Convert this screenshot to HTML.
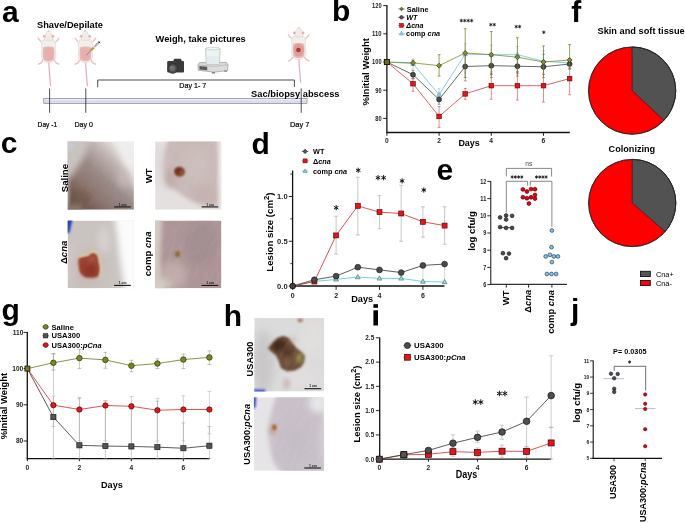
<!DOCTYPE html>
<html><head><meta charset="utf-8"><style>
html,body{margin:0;padding:0;background:#fff;}
svg{display:block;filter:blur(0.4px);}
text{font-family:"Liberation Sans", sans-serif;}
</style></head><body>
<svg width="685" height="523" viewBox="0 0 685 523" font-family='"Liberation Sans", sans-serif'>
<defs><filter id="msoft" x="-20%" y="-20%" width="140%" height="140%"><feGaussianBlur stdDeviation="0.28"/></filter><filter id="bl1" x="-60%" y="-60%" width="220%" height="220%"><feGaussianBlur stdDeviation="1.0"/></filter><filter id="bl2" x="-60%" y="-60%" width="220%" height="220%"><feGaussianBlur stdDeviation="2.2"/></filter><filter id="bl3" x="-60%" y="-60%" width="220%" height="220%"><feGaussianBlur stdDeviation="3.2"/></filter><filter id="bl4" x="-60%" y="-60%" width="220%" height="220%"><feGaussianBlur stdDeviation="4.5"/></filter><filter id="bl6" x="-60%" y="-60%" width="220%" height="220%"><feGaussianBlur stdDeviation="6.5"/></filter><filter id="fur" x="0" y="0" width="100%" height="100%" filterUnits="objectBoundingBox"><feTurbulence type="fractalNoise" baseFrequency="0.06 0.3" numOctaves="2" seed="5"/><feColorMatrix type="matrix" values="0 0 0 0 1  0 0 0 0 1  0 0 0 0 1  0 0 0 1.4 -0.55"/></filter><linearGradient id="gc1" gradientUnits="userSpaceOnUse" x1="68" y1="210" x2="134" y2="141"><stop offset="0" stop-color="#5a4036"/><stop offset="0.3" stop-color="#8c746e"/><stop offset="0.5" stop-color="#9a8a87"/><stop offset="0.7" stop-color="#c2b6b2"/><stop offset="0.85" stop-color="#e8e4e2"/><stop offset="1" stop-color="#f6f6f5"/></linearGradient><clipPath id="cpc1"><rect x="67.6" y="141.4" width="66.3" height="68.3"/></clipPath><clipPath id="cpc2"><rect x="155.1" y="141.4" width="66.3" height="68.3"/></clipPath><clipPath id="cpc3"><rect x="67.6" y="220.6" width="66.3" height="67.6"/></clipPath><clipPath id="cpc4"><rect x="155.1" y="220.6" width="66.3" height="67.6"/></clipPath><clipPath id="cph1"><rect x="254.3" y="318.1" width="70.0" height="73.4"/></clipPath><clipPath id="cph2"><rect x="253.9" y="397.3" width="70.2" height="73.5"/></clipPath></defs>
<rect width="685" height="523" fill="#fff"/>
<text x="2.05" y="21.60" font-size="30" font-weight="bold" text-anchor="start" fill="#000" >a</text>
<text x="331.95" y="21.20" font-size="30" font-weight="bold" text-anchor="start" fill="#000" >b</text>
<text x="571.20" y="21.80" font-size="30" font-weight="bold" text-anchor="start" fill="#000" >f</text>
<text x="0.70" y="153.40" font-size="30" font-weight="bold" text-anchor="start" fill="#000" >c</text>
<text x="251.50" y="154.20" font-size="30" font-weight="bold" text-anchor="start" fill="#000" >d</text>
<text x="436.50" y="180.40" font-size="30" font-weight="bold" text-anchor="start" fill="#000" >e</text>
<text x="1.50" y="320.20" font-size="30" font-weight="bold" text-anchor="start" fill="#000" >g</text>
<text x="223.75" y="326.00" font-size="30" font-weight="bold" text-anchor="start" fill="#000" >h</text>
<rect x="373.4" y="304.2" width="4.6" height="3.6" fill="#000"/><rect x="373.4" y="310.3" width="4.6" height="15.2" fill="#000"/>
<text x="570.90" y="320.00" font-size="30" font-weight="bold" text-anchor="start" fill="#000" >j</text>
<g transform="translate(48.60,30.60)" filter="url(#msoft)">
<path d="M0.2,31.5 C0.6,40 1.3,48 2.0,55.5" stroke="#e6aab4" stroke-width="1.2" fill="none"/>
<path d="M-4.2,27.5 L-7.8,32.6 L-10.2,33.6" stroke="#edbcc3" stroke-width="1.4" fill="none" stroke-linecap="round" stroke-linejoin="round"/>
<path d="M4.2,27.5 L7.8,32.6 L10.2,33.6" stroke="#edbcc3" stroke-width="1.4" fill="none" stroke-linecap="round" stroke-linejoin="round"/>
<path d="M-4.5,13 L-8.4,10.2 L-10.4,7.6" stroke="#edbcc3" stroke-width="1.3" fill="none" stroke-linecap="round" stroke-linejoin="round"/>
<path d="M4.5,13 L8.4,10.2 L10.4,7.6" stroke="#edbcc3" stroke-width="1.3" fill="none" stroke-linecap="round" stroke-linejoin="round"/>
<path d="M-4.8,13.2 L-7.6,11 M4.8,13.2 L7.6,11" stroke="#f1ede9" stroke-width="2.2" fill="none"/>
<path d="M-3.8,8.6 C-6.8,9.4 -7.4,12.5 -7.0,15.5 C-6.4,18 -6.6,20.5 -7.2,23.5 C-7.8,27.5 -6.0,31.8 0,32.4 C6.0,31.8 7.8,27.5 7.2,23.5 C6.6,20.5 6.4,18 7.0,15.5 C7.4,12.5 6.8,9.4 3.8,8.6 Z" fill="#f2eee9" stroke="#d4ccc6" stroke-width="0.5"/>
<path d="M-5.4,16.8 C-5.9,20 -6.0,25 -5.3,29.0 C-3,31.4 3,31.4 5.3,29.0 C6.0,25 5.9,20 5.4,16.8 C2.6,15.6 -2.6,15.6 -5.4,16.8 Z" fill="#e9b6b5"/>
<path d="M-3.8,18.4 C-4.1,21 -4.1,25 -3.6,28 C-1.6,29.6 1.6,29.6 3.6,28 C4.1,25 4.1,21 3.8,18.4 C1.8,17.4 -1.8,17.4 -3.8,18.4 Z" fill="#e4a6a6" opacity="0.5"/>
<path d="M0,0 C-1.5,0.3 -2.4,2 -3.1,4.4 C-4.0,6.8 -4.3,8.6 -3.6,9.6 L3.6,9.6 C4.3,8.6 4.0,6.8 3.1,4.4 C2.4,2 1.5,0.3 0,0 Z" fill="#f2eee9" stroke="#d2c9c2" stroke-width="0.5"/>
<ellipse cx="0" cy="6.2" rx="2.2" ry="2.6" fill="#f5e8e4" />
<circle cx="-4.4" cy="5.7" r="1.35" fill="#e9abb4"/>
<circle cx="4.4" cy="5.7" r="1.35" fill="#e9abb4"/>
<circle cx="0" cy="0.7" r="0.8" fill="#efc6c8"/>
</g>
<g transform="translate(85.40,30.60)" filter="url(#msoft)">
<path d="M0.2,31.5 C0.6,40 1.3,48 2.0,55.5" stroke="#e6aab4" stroke-width="1.2" fill="none"/>
<path d="M-4.2,27.5 L-7.8,32.6 L-10.2,33.6" stroke="#edbcc3" stroke-width="1.4" fill="none" stroke-linecap="round" stroke-linejoin="round"/>
<path d="M4.2,27.5 L7.8,32.6 L10.2,33.6" stroke="#edbcc3" stroke-width="1.4" fill="none" stroke-linecap="round" stroke-linejoin="round"/>
<path d="M-4.5,13 L-8.4,10.2 L-10.4,7.6" stroke="#edbcc3" stroke-width="1.3" fill="none" stroke-linecap="round" stroke-linejoin="round"/>
<path d="M4.5,13 L8.4,10.2 L10.4,7.6" stroke="#edbcc3" stroke-width="1.3" fill="none" stroke-linecap="round" stroke-linejoin="round"/>
<path d="M-4.8,13.2 L-7.6,11 M4.8,13.2 L7.6,11" stroke="#f1ede9" stroke-width="2.2" fill="none"/>
<path d="M-3.8,8.6 C-6.8,9.4 -7.4,12.5 -7.0,15.5 C-6.4,18 -6.6,20.5 -7.2,23.5 C-7.8,27.5 -6.0,31.8 0,32.4 C6.0,31.8 7.8,27.5 7.2,23.5 C6.6,20.5 6.4,18 7.0,15.5 C7.4,12.5 6.8,9.4 3.8,8.6 Z" fill="#f2eee9" stroke="#d4ccc6" stroke-width="0.5"/>
<path d="M-5.4,16.8 C-5.9,20 -6.0,25 -5.3,29.0 C-3,31.4 3,31.4 5.3,29.0 C6.0,25 5.9,20 5.4,16.8 C2.6,15.6 -2.6,15.6 -5.4,16.8 Z" fill="#e9b6b5"/>
<path d="M-3.8,18.4 C-4.1,21 -4.1,25 -3.6,28 C-1.6,29.6 1.6,29.6 3.6,28 C4.1,25 4.1,21 3.8,18.4 C1.8,17.4 -1.8,17.4 -3.8,18.4 Z" fill="#e4a6a6" opacity="0.5"/>
<path d="M0,0 C-1.5,0.3 -2.4,2 -3.1,4.4 C-4.0,6.8 -4.3,8.6 -3.6,9.6 L3.6,9.6 C4.3,8.6 4.0,6.8 3.1,4.4 C2.4,2 1.5,0.3 0,0 Z" fill="#f2eee9" stroke="#d2c9c2" stroke-width="0.5"/>
<ellipse cx="0" cy="6.2" rx="2.2" ry="2.6" fill="#f5e8e4" />
<circle cx="-4.4" cy="5.7" r="1.35" fill="#e9abb4"/>
<circle cx="4.4" cy="5.7" r="1.35" fill="#e9abb4"/>
<circle cx="0" cy="0.7" r="0.8" fill="#efc6c8"/>
</g>
<g filter="url(#msoft)">
<line x1="86.40" y1="55.30" x2="90.60" y2="50.70" stroke="#555" stroke-width="0.5" />
<line x1="90.40" y1="50.90" x2="91.20" y2="50.10" stroke="#9a7fc8" stroke-width="1.6" />
<line x1="91.00" y1="50.20" x2="93.90" y2="47.60" stroke="#b9a226" stroke-width="2.4" />
<line x1="93.80" y1="47.60" x2="98.20" y2="43.10" stroke="#dfe3e0" stroke-width="2.3" />
<path d="M94.6,46.0 L95.2,46.6 M95.8,44.8 L96.4,45.4 M97.0,43.6 L97.6,44.2" stroke="#222" stroke-width="0.6"/>
<line x1="94.30" y1="46.30" x2="98.00" y2="42.60" stroke="#555" stroke-width="0.5" />
<line x1="98.10" y1="43.20" x2="99.60" y2="41.80" stroke="#333" stroke-width="1.0" />
<line x1="98.40" y1="41.60" x2="100.20" y2="43.20" stroke="#222" stroke-width="0.9" />
</g>
<g transform="translate(298.70,27.20)" filter="url(#msoft)">
<path d="M0.2,31.5 C0.6,40 1.3,48 2.0,55.5" stroke="#e6aab4" stroke-width="1.2" fill="none"/>
<path d="M-4.2,27.5 L-7.8,32.6 L-10.2,33.6" stroke="#edbcc3" stroke-width="1.4" fill="none" stroke-linecap="round" stroke-linejoin="round"/>
<path d="M4.2,27.5 L7.8,32.6 L10.2,33.6" stroke="#edbcc3" stroke-width="1.4" fill="none" stroke-linecap="round" stroke-linejoin="round"/>
<path d="M-4.5,13 L-8.4,10.2 L-10.4,7.6" stroke="#edbcc3" stroke-width="1.3" fill="none" stroke-linecap="round" stroke-linejoin="round"/>
<path d="M4.5,13 L8.4,10.2 L10.4,7.6" stroke="#edbcc3" stroke-width="1.3" fill="none" stroke-linecap="round" stroke-linejoin="round"/>
<path d="M-4.8,13.2 L-7.6,11 M4.8,13.2 L7.6,11" stroke="#f1ede9" stroke-width="2.2" fill="none"/>
<path d="M-3.8,8.6 C-6.8,9.4 -7.4,12.5 -7.0,15.5 C-6.4,18 -6.6,20.5 -7.2,23.5 C-7.8,27.5 -6.0,31.8 0,32.4 C6.0,31.8 7.8,27.5 7.2,23.5 C6.6,20.5 6.4,18 7.0,15.5 C7.4,12.5 6.8,9.4 3.8,8.6 Z" fill="#f2eee9" stroke="#d4ccc6" stroke-width="0.5"/>
<path d="M-5.4,16.8 C-5.9,20 -6.0,25 -5.3,29.0 C-3,31.4 3,31.4 5.3,29.0 C6.0,25 5.9,20 5.4,16.8 C2.6,15.6 -2.6,15.6 -5.4,16.8 Z" fill="#e9b6b5"/>
<path d="M-3.8,18.4 C-4.1,21 -4.1,25 -3.6,28 C-1.6,29.6 1.6,29.6 3.6,28 C4.1,25 4.1,21 3.8,18.4 C1.8,17.4 -1.8,17.4 -3.8,18.4 Z" fill="#e4a6a6" opacity="0.5"/>
<ellipse cx="0" cy="22.8" rx="5.2" ry="6.3" fill="#dc8e8c" opacity="0.6"/>
<ellipse cx="-0.3" cy="22.8" rx="2.3" ry="2.2" fill="#a8393c"/>
<path d="M0,0 C-1.5,0.3 -2.4,2 -3.1,4.4 C-4.0,6.8 -4.3,8.6 -3.6,9.6 L3.6,9.6 C4.3,8.6 4.0,6.8 3.1,4.4 C2.4,2 1.5,0.3 0,0 Z" fill="#f2eee9" stroke="#d2c9c2" stroke-width="0.5"/>
<ellipse cx="0" cy="6.2" rx="2.2" ry="2.6" fill="#f5e8e4" />
<circle cx="-4.4" cy="5.7" r="1.35" fill="#e9abb4"/>
<circle cx="4.4" cy="5.7" r="1.35" fill="#e9abb4"/>
<circle cx="0" cy="0.7" r="0.8" fill="#efc6c8"/>
</g>
<text x="37.00" y="28.40" font-size="8.2" font-weight="bold" text-anchor="start" fill="#000" textLength="66" lengthAdjust="spacingAndGlyphs" >Shave/Depilate</text>
<text x="155.60" y="42.30" font-size="9.6" font-weight="bold" text-anchor="start" fill="#000" textLength="90.2" lengthAdjust="spacingAndGlyphs" >Weigh, take pictures</text>
<path d="M167.2,62.2 Q167,61 168.5,61 L173.2,61 L174.3,58.8 L180.8,58.8 L181.9,61 L183.2,61 Q184,61 184,62.2 L184,71.6 Q184,72.6 183,72.6 L168.2,72.6 Q167.2,72.6 167.2,71.6 Z" fill="#3a3a3a"/>
<circle cx="172.7" cy="68.5" r="4.8" fill="#4e4e4e" stroke="#2a2a2a" stroke-width="0.8"/>
<circle cx="172.5" cy="68.3" r="2.8" fill="#6c6c6c"/>
<circle cx="171.6" cy="67.4" r="0.9" fill="#8a8a8a"/>
<path d="M199.5,62.6 L226.5,62.4 L228.0,64.8 L227.6,70.6 L214,72.2 L198.2,70.2 L198.0,64.8 Z" fill="#dcdcda" stroke="#8a8a88" stroke-width="0.6"/>
<path d="M198.2,64.9 L214,66.4 L227.8,64.8" stroke="#a0a09e" stroke-width="0.5" fill="none"/>
<path d="M199.4,66.0 L207.2,66.8 L207.2,70.2 L199.4,69.4 Z" fill="#5a5a58"/>
<rect x="211.8" y="72" width="3.2" height="1.6" fill="#8c8c8c"/>
<rect x="224.2" y="70.4" width="2.8" height="1.4" fill="#8c8c8c"/>
<path d="M205.5,48.4 L220.1,48.4 L219.4,64.3 L206.2,64.3 Z" fill="#edf2f2" stroke="#aab4b6" stroke-width="0.6"/>
<ellipse cx="212.8" cy="48.6" rx="7.3" ry="1.2" fill="#f6f8f8" stroke="#aab4b6" stroke-width="0.5"/>
<rect x="207" y="56" width="11.8" height="8" fill="#dfeaee" opacity="0.7"/>
<polyline points="97.70,87.30 97.70,80.00 294.40,80.00 294.40,86.80" stroke="#222" stroke-width="0.8" fill="none" />
<text x="192.80" y="88.30" font-size="7.6" font-weight="normal" text-anchor="middle" fill="#000" textLength="27" lengthAdjust="spacingAndGlyphs" stroke="#000" stroke-width="0.2">Day 1- 7</text>
<rect x="43.8" y="98.6" width="263.2" height="4.8" fill="#dadcf0" stroke="#5a5a66" stroke-width="0.5"/>
<rect x="44.2" y="99.0" width="262.4" height="1.2" fill="#eceefa"/>
<line x1="49.60" y1="88.40" x2="49.60" y2="112.80" stroke="#222" stroke-width="0.8" />
<line x1="85.80" y1="88.40" x2="85.80" y2="112.80" stroke="#222" stroke-width="0.8" />
<line x1="301.20" y1="88.40" x2="301.20" y2="112.80" stroke="#222" stroke-width="0.8" />
<text x="37.60" y="127.10" font-size="7.7" font-weight="normal" text-anchor="start" fill="#000" textLength="19.6" lengthAdjust="spacingAndGlyphs" stroke="#000" stroke-width="0.2">Day -1</text>
<text x="74.50" y="127.10" font-size="7.7" font-weight="normal" text-anchor="start" fill="#000" textLength="18.5" lengthAdjust="spacingAndGlyphs" stroke="#000" stroke-width="0.2">Day 0</text>
<text x="290.00" y="127.20" font-size="7.7" font-weight="normal" text-anchor="start" fill="#000" textLength="19.4" lengthAdjust="spacingAndGlyphs" stroke="#000" stroke-width="0.2">Day 7</text>
<text x="251.10" y="96.70" font-size="9.4" font-weight="bold" text-anchor="start" fill="#000" textLength="88.4" lengthAdjust="spacingAndGlyphs" >Sac/biopsy abscess</text>
<line x1="386.90" y1="5.00" x2="386.90" y2="132.80" stroke="#111" stroke-width="1.3" />
<line x1="386.30" y1="132.50" x2="569.80" y2="132.50" stroke="#111" stroke-width="1.3" />
<line x1="383.20" y1="118.40" x2="386.90" y2="118.40" stroke="#111" stroke-width="0.9" />
<text x="381.60" y="120.75" font-size="6.5" font-weight="bold" text-anchor="end" fill="#222" textLength="6.34" lengthAdjust="spacingAndGlyphs" >80</text>
<line x1="383.20" y1="90.20" x2="386.90" y2="90.20" stroke="#111" stroke-width="0.9" />
<text x="381.60" y="92.55" font-size="6.5" font-weight="bold" text-anchor="end" fill="#222" textLength="6.34" lengthAdjust="spacingAndGlyphs" >90</text>
<line x1="383.20" y1="62.00" x2="386.90" y2="62.00" stroke="#111" stroke-width="0.9" />
<text x="381.60" y="64.35" font-size="6.5" font-weight="bold" text-anchor="end" fill="#222" textLength="9.51" lengthAdjust="spacingAndGlyphs" >100</text>
<line x1="383.20" y1="33.80" x2="386.90" y2="33.80" stroke="#111" stroke-width="0.9" />
<text x="381.60" y="36.15" font-size="6.5" font-weight="bold" text-anchor="end" fill="#222" textLength="9.51" lengthAdjust="spacingAndGlyphs" >110</text>
<line x1="383.20" y1="5.60" x2="386.90" y2="5.60" stroke="#111" stroke-width="0.9" />
<text x="381.60" y="7.95" font-size="6.5" font-weight="bold" text-anchor="end" fill="#222" textLength="9.51" lengthAdjust="spacingAndGlyphs" >120</text>
<line x1="386.90" y1="132.50" x2="386.90" y2="135.80" stroke="#111" stroke-width="0.9" />
<text x="386.80" y="143.10" font-size="6.6" font-weight="bold" text-anchor="middle" fill="#222" >0</text>
<line x1="439.10" y1="132.50" x2="439.10" y2="135.80" stroke="#111" stroke-width="0.9" />
<text x="439.00" y="143.10" font-size="6.6" font-weight="bold" text-anchor="middle" fill="#222" >2</text>
<line x1="491.30" y1="132.50" x2="491.30" y2="135.80" stroke="#111" stroke-width="0.9" />
<text x="491.20" y="143.10" font-size="6.6" font-weight="bold" text-anchor="middle" fill="#222" >4</text>
<line x1="543.50" y1="132.50" x2="543.50" y2="135.80" stroke="#111" stroke-width="0.9" />
<text x="543.40" y="143.10" font-size="6.6" font-weight="bold" text-anchor="middle" fill="#222" >6</text>
<text x="469.10" y="145.60" font-size="9.7" font-weight="bold" text-anchor="middle" fill="#000" textLength="21.4" lengthAdjust="spacingAndGlyphs" >Days</text>
<text x="368.70" y="71.80" font-size="9.5" font-weight="bold" text-anchor="middle" fill="#000" transform="rotate(-90 368.70 71.80)" >%Initial Weight</text>
<line x1="413.00" y1="70.46" x2="413.00" y2="78.92" stroke="#666" stroke-width="0.6" />
<line x1="411.60" y1="70.46" x2="414.40" y2="70.46" stroke="#666" stroke-width="0.6" />
<line x1="411.60" y1="78.92" x2="414.40" y2="78.92" stroke="#666" stroke-width="0.6" />
<line x1="413.00" y1="59.18" x2="413.00" y2="69.05" stroke="#7fbfd6" stroke-width="0.6" />
<line x1="411.60" y1="59.18" x2="414.40" y2="59.18" stroke="#7fbfd6" stroke-width="0.6" />
<line x1="411.60" y1="69.05" x2="414.40" y2="69.05" stroke="#7fbfd6" stroke-width="0.6" />
<line x1="413.00" y1="78.36" x2="413.00" y2="91.33" stroke="#d54040" stroke-width="0.6" />
<line x1="411.60" y1="78.36" x2="414.40" y2="78.36" stroke="#d54040" stroke-width="0.6" />
<line x1="411.60" y1="91.33" x2="414.40" y2="91.33" stroke="#d54040" stroke-width="0.6" />
<line x1="439.10" y1="94.43" x2="439.10" y2="104.30" stroke="#666" stroke-width="0.6" />
<line x1="437.70" y1="94.43" x2="440.50" y2="94.43" stroke="#666" stroke-width="0.6" />
<line x1="437.70" y1="104.30" x2="440.50" y2="104.30" stroke="#666" stroke-width="0.6" />
<line x1="439.10" y1="88.79" x2="439.10" y2="104.30" stroke="#7fbfd6" stroke-width="0.6" />
<line x1="437.70" y1="88.79" x2="440.50" y2="88.79" stroke="#7fbfd6" stroke-width="0.6" />
<line x1="437.70" y1="104.30" x2="440.50" y2="104.30" stroke="#7fbfd6" stroke-width="0.6" />
<line x1="439.10" y1="106.56" x2="439.10" y2="127.42" stroke="#d54040" stroke-width="0.6" />
<line x1="437.70" y1="106.56" x2="440.50" y2="106.56" stroke="#d54040" stroke-width="0.6" />
<line x1="437.70" y1="127.42" x2="440.50" y2="127.42" stroke="#d54040" stroke-width="0.6" />
<line x1="465.20" y1="53.54" x2="465.20" y2="80.89" stroke="#666" stroke-width="0.6" />
<line x1="463.80" y1="53.54" x2="466.60" y2="53.54" stroke="#666" stroke-width="0.6" />
<line x1="463.80" y1="80.89" x2="466.60" y2="80.89" stroke="#666" stroke-width="0.6" />
<line x1="465.20" y1="43.67" x2="465.20" y2="73.28" stroke="#7fbfd6" stroke-width="0.6" />
<line x1="463.80" y1="43.67" x2="466.60" y2="43.67" stroke="#7fbfd6" stroke-width="0.6" />
<line x1="463.80" y1="73.28" x2="466.60" y2="73.28" stroke="#7fbfd6" stroke-width="0.6" />
<line x1="465.20" y1="88.51" x2="465.20" y2="99.22" stroke="#d54040" stroke-width="0.6" />
<line x1="463.80" y1="88.51" x2="466.60" y2="88.51" stroke="#d54040" stroke-width="0.6" />
<line x1="463.80" y1="99.22" x2="466.60" y2="99.22" stroke="#d54040" stroke-width="0.6" />
<line x1="491.30" y1="53.54" x2="491.30" y2="77.51" stroke="#666" stroke-width="0.6" />
<line x1="489.90" y1="53.54" x2="492.70" y2="53.54" stroke="#666" stroke-width="0.6" />
<line x1="489.90" y1="77.51" x2="492.70" y2="77.51" stroke="#666" stroke-width="0.6" />
<line x1="491.30" y1="45.08" x2="491.30" y2="71.87" stroke="#7fbfd6" stroke-width="0.6" />
<line x1="489.90" y1="45.08" x2="492.70" y2="45.08" stroke="#7fbfd6" stroke-width="0.6" />
<line x1="489.90" y1="71.87" x2="492.70" y2="71.87" stroke="#7fbfd6" stroke-width="0.6" />
<line x1="491.30" y1="73.28" x2="491.30" y2="99.22" stroke="#d54040" stroke-width="0.6" />
<line x1="489.90" y1="73.28" x2="492.70" y2="73.28" stroke="#d54040" stroke-width="0.6" />
<line x1="489.90" y1="99.22" x2="492.70" y2="99.22" stroke="#d54040" stroke-width="0.6" />
<line x1="517.40" y1="54.95" x2="517.40" y2="76.10" stroke="#666" stroke-width="0.6" />
<line x1="516.00" y1="54.95" x2="518.80" y2="54.95" stroke="#666" stroke-width="0.6" />
<line x1="516.00" y1="76.10" x2="518.80" y2="76.10" stroke="#666" stroke-width="0.6" />
<line x1="517.40" y1="46.49" x2="517.40" y2="71.87" stroke="#7fbfd6" stroke-width="0.6" />
<line x1="516.00" y1="46.49" x2="518.80" y2="46.49" stroke="#7fbfd6" stroke-width="0.6" />
<line x1="516.00" y1="71.87" x2="518.80" y2="71.87" stroke="#7fbfd6" stroke-width="0.6" />
<line x1="517.40" y1="71.87" x2="517.40" y2="100.07" stroke="#d54040" stroke-width="0.6" />
<line x1="516.00" y1="71.87" x2="518.80" y2="71.87" stroke="#d54040" stroke-width="0.6" />
<line x1="516.00" y1="100.07" x2="518.80" y2="100.07" stroke="#d54040" stroke-width="0.6" />
<line x1="543.50" y1="54.39" x2="543.50" y2="77.51" stroke="#666" stroke-width="0.6" />
<line x1="542.10" y1="54.39" x2="544.90" y2="54.39" stroke="#666" stroke-width="0.6" />
<line x1="542.10" y1="77.51" x2="544.90" y2="77.51" stroke="#666" stroke-width="0.6" />
<line x1="543.50" y1="50.72" x2="543.50" y2="73.28" stroke="#7fbfd6" stroke-width="0.6" />
<line x1="542.10" y1="50.72" x2="544.90" y2="50.72" stroke="#7fbfd6" stroke-width="0.6" />
<line x1="542.10" y1="73.28" x2="544.90" y2="73.28" stroke="#7fbfd6" stroke-width="0.6" />
<line x1="543.50" y1="69.05" x2="543.50" y2="102.04" stroke="#d54040" stroke-width="0.6" />
<line x1="542.10" y1="69.05" x2="544.90" y2="69.05" stroke="#d54040" stroke-width="0.6" />
<line x1="542.10" y1="102.04" x2="544.90" y2="102.04" stroke="#d54040" stroke-width="0.6" />
<line x1="569.60" y1="58.62" x2="569.60" y2="69.05" stroke="#666" stroke-width="0.6" />
<line x1="568.20" y1="58.62" x2="571.00" y2="58.62" stroke="#666" stroke-width="0.6" />
<line x1="568.20" y1="69.05" x2="571.00" y2="69.05" stroke="#666" stroke-width="0.6" />
<line x1="569.60" y1="59.18" x2="569.60" y2="67.64" stroke="#7fbfd6" stroke-width="0.6" />
<line x1="568.20" y1="59.18" x2="571.00" y2="59.18" stroke="#7fbfd6" stroke-width="0.6" />
<line x1="568.20" y1="67.64" x2="571.00" y2="67.64" stroke="#7fbfd6" stroke-width="0.6" />
<line x1="569.60" y1="63.13" x2="569.60" y2="94.71" stroke="#d54040" stroke-width="0.6" />
<line x1="568.20" y1="63.13" x2="571.00" y2="63.13" stroke="#d54040" stroke-width="0.6" />
<line x1="568.20" y1="94.71" x2="571.00" y2="94.71" stroke="#d54040" stroke-width="0.6" />
<polyline points="386.90,62.00 413.00,74.69 439.10,99.51 465.20,66.51 491.30,65.67 517.40,66.23 543.50,66.79 569.60,63.97" stroke="#444" stroke-width="0.8" fill="none" />
<polyline points="386.90,62.00 413.00,83.71 439.10,116.43 465.20,93.87 491.30,85.69 517.40,85.69 543.50,85.69 569.60,78.64" stroke="#d63a3a" stroke-width="0.8" fill="none" />
<polyline points="386.90,62.00 413.00,63.69 439.10,94.71 465.20,54.10 491.30,54.67 517.40,54.67 543.50,61.15 569.60,63.13" stroke="#6ec0dc" stroke-width="0.8" fill="none" />
<polyline points="386.90,62.00 413.00,62.85 439.10,65.67 465.20,52.98 491.30,54.67 517.40,57.21 543.50,62.00 569.60,60.03" stroke="#7d8a2a" stroke-width="0.8" fill="none" />
<polygon points="386.90,59.58 384.59,63.65 389.21,63.65" fill="#8fd0ea" stroke="#4a9ab8" stroke-width="0.5"/>
<polygon points="413.00,61.27 410.69,65.34 415.31,65.34" fill="#8fd0ea" stroke="#4a9ab8" stroke-width="0.5"/>
<polygon points="439.10,92.29 436.79,96.36 441.41,96.36" fill="#8fd0ea" stroke="#4a9ab8" stroke-width="0.5"/>
<polygon points="465.20,51.68 462.89,55.75 467.51,55.75" fill="#8fd0ea" stroke="#4a9ab8" stroke-width="0.5"/>
<polygon points="491.30,52.25 488.99,56.32 493.61,56.32" fill="#8fd0ea" stroke="#4a9ab8" stroke-width="0.5"/>
<polygon points="517.40,52.25 515.09,56.32 519.71,56.32" fill="#8fd0ea" stroke="#4a9ab8" stroke-width="0.5"/>
<polygon points="543.50,58.73 541.19,62.80 545.81,62.80" fill="#8fd0ea" stroke="#4a9ab8" stroke-width="0.5"/>
<polygon points="569.60,60.71 567.29,64.78 571.91,64.78" fill="#8fd0ea" stroke="#4a9ab8" stroke-width="0.5"/>
<circle cx="386.90" cy="62.00" r="2.5" fill="#4a4a4a" stroke="#1a1a1a" stroke-width="0.6"/>
<circle cx="413.00" cy="74.69" r="2.5" fill="#4a4a4a" stroke="#1a1a1a" stroke-width="0.6"/>
<circle cx="439.10" cy="99.51" r="2.5" fill="#4a4a4a" stroke="#1a1a1a" stroke-width="0.6"/>
<circle cx="465.20" cy="66.51" r="2.5" fill="#4a4a4a" stroke="#1a1a1a" stroke-width="0.6"/>
<circle cx="491.30" cy="65.67" r="2.5" fill="#4a4a4a" stroke="#1a1a1a" stroke-width="0.6"/>
<circle cx="517.40" cy="66.23" r="2.5" fill="#4a4a4a" stroke="#1a1a1a" stroke-width="0.6"/>
<circle cx="543.50" cy="66.79" r="2.5" fill="#4a4a4a" stroke="#1a1a1a" stroke-width="0.6"/>
<circle cx="569.60" cy="63.97" r="2.5" fill="#4a4a4a" stroke="#1a1a1a" stroke-width="0.6"/>
<rect x="384.60" y="59.70" width="4.6" height="4.6" fill="#e8141c" stroke="#5a0000" stroke-width="0.6"/>
<rect x="410.70" y="81.41" width="4.6" height="4.6" fill="#e8141c" stroke="#5a0000" stroke-width="0.6"/>
<rect x="436.80" y="114.13" width="4.6" height="4.6" fill="#e8141c" stroke="#5a0000" stroke-width="0.6"/>
<rect x="462.90" y="91.57" width="4.6" height="4.6" fill="#e8141c" stroke="#5a0000" stroke-width="0.6"/>
<rect x="489.00" y="83.39" width="4.6" height="4.6" fill="#e8141c" stroke="#5a0000" stroke-width="0.6"/>
<rect x="515.10" y="83.39" width="4.6" height="4.6" fill="#e8141c" stroke="#5a0000" stroke-width="0.6"/>
<rect x="541.20" y="83.39" width="4.6" height="4.6" fill="#e8141c" stroke="#5a0000" stroke-width="0.6"/>
<rect x="567.30" y="76.34" width="4.6" height="4.6" fill="#e8141c" stroke="#5a0000" stroke-width="0.6"/>
<line x1="413.00" y1="60.31" x2="413.00" y2="65.38" stroke="#6f7a22" stroke-width="0.7" />
<line x1="411.60" y1="60.31" x2="414.40" y2="60.31" stroke="#6f7a22" stroke-width="0.7" />
<line x1="411.60" y1="65.38" x2="414.40" y2="65.38" stroke="#6f7a22" stroke-width="0.7" />
<line x1="439.10" y1="54.67" x2="439.10" y2="76.10" stroke="#6f7a22" stroke-width="0.7" />
<line x1="437.70" y1="54.67" x2="440.50" y2="54.67" stroke="#6f7a22" stroke-width="0.7" />
<line x1="437.70" y1="76.10" x2="440.50" y2="76.10" stroke="#6f7a22" stroke-width="0.7" />
<line x1="465.20" y1="28.72" x2="465.20" y2="77.51" stroke="#6f7a22" stroke-width="0.7" />
<line x1="463.80" y1="28.72" x2="466.60" y2="28.72" stroke="#6f7a22" stroke-width="0.7" />
<line x1="463.80" y1="77.51" x2="466.60" y2="77.51" stroke="#6f7a22" stroke-width="0.7" />
<line x1="491.30" y1="31.54" x2="491.30" y2="74.69" stroke="#6f7a22" stroke-width="0.7" />
<line x1="489.90" y1="31.54" x2="492.70" y2="31.54" stroke="#6f7a22" stroke-width="0.7" />
<line x1="489.90" y1="74.69" x2="492.70" y2="74.69" stroke="#6f7a22" stroke-width="0.7" />
<line x1="517.40" y1="37.75" x2="517.40" y2="73.28" stroke="#6f7a22" stroke-width="0.7" />
<line x1="516.00" y1="37.75" x2="518.80" y2="37.75" stroke="#6f7a22" stroke-width="0.7" />
<line x1="516.00" y1="73.28" x2="518.80" y2="73.28" stroke="#6f7a22" stroke-width="0.7" />
<line x1="543.50" y1="45.93" x2="543.50" y2="74.69" stroke="#6f7a22" stroke-width="0.7" />
<line x1="542.10" y1="45.93" x2="544.90" y2="45.93" stroke="#6f7a22" stroke-width="0.7" />
<line x1="542.10" y1="74.69" x2="544.90" y2="74.69" stroke="#6f7a22" stroke-width="0.7" />
<line x1="569.60" y1="44.52" x2="569.60" y2="68.77" stroke="#6f7a22" stroke-width="0.7" />
<line x1="568.20" y1="44.52" x2="571.00" y2="44.52" stroke="#6f7a22" stroke-width="0.7" />
<line x1="568.20" y1="68.77" x2="571.00" y2="68.77" stroke="#6f7a22" stroke-width="0.7" />
<polygon points="386.90,59.50 389.40,62.00 386.90,64.50 384.40,62.00" fill="#8e8e1c" stroke="#222" stroke-width="0.6"/>
<polygon points="413.00,60.35 415.50,62.85 413.00,65.35 410.50,62.85" fill="#8e8e1c" stroke="#222" stroke-width="0.6"/>
<polygon points="439.10,63.17 441.60,65.67 439.10,68.17 436.60,65.67" fill="#8e8e1c" stroke="#222" stroke-width="0.6"/>
<polygon points="465.20,50.48 467.70,52.98 465.20,55.48 462.70,52.98" fill="#8e8e1c" stroke="#222" stroke-width="0.6"/>
<polygon points="491.30,52.17 493.80,54.67 491.30,57.17 488.80,54.67" fill="#8e8e1c" stroke="#222" stroke-width="0.6"/>
<polygon points="517.40,54.71 519.90,57.21 517.40,59.71 514.90,57.21" fill="#8e8e1c" stroke="#222" stroke-width="0.6"/>
<polygon points="543.50,59.50 546.00,62.00 543.50,64.50 541.00,62.00" fill="#8e8e1c" stroke="#222" stroke-width="0.6"/>
<polygon points="569.60,57.53 572.10,60.03 569.60,62.53 567.10,60.03" fill="#8e8e1c" stroke="#222" stroke-width="0.6"/>
<rect x="384.30" y="59.40" width="5.2" height="5.2" fill="#6b6b20" stroke="#111" stroke-width="0.8"/>
<path d="M461.32,18.85 L461.32,22.35 M459.81,19.73 L462.84,21.48 M462.84,19.73 L459.81,21.48 " stroke="#111" stroke-width="0.8" stroke-linecap="butt" fill="none"/>
<path d="M464.77,18.85 L464.77,22.35 M463.26,19.73 L466.29,21.48 M466.29,19.73 L463.26,21.48 " stroke="#111" stroke-width="0.8" stroke-linecap="butt" fill="none"/>
<path d="M468.22,18.85 L468.22,22.35 M466.71,19.73 L469.74,21.48 M469.74,19.73 L466.71,21.48 " stroke="#111" stroke-width="0.8" stroke-linecap="butt" fill="none"/>
<path d="M471.68,18.85 L471.68,22.35 M470.16,19.73 L473.19,21.48 M473.19,19.73 L470.16,21.48 " stroke="#111" stroke-width="0.8" stroke-linecap="butt" fill="none"/>
<path d="M490.77,22.90 L490.77,26.40 M489.26,23.77 L492.29,25.52 M492.29,23.77 L489.26,25.52 " stroke="#111" stroke-width="0.8" stroke-linecap="butt" fill="none"/>
<path d="M494.22,22.90 L494.22,26.40 M492.71,23.77 L495.74,25.52 M495.74,23.77 L492.71,25.52 " stroke="#111" stroke-width="0.8" stroke-linecap="butt" fill="none"/>
<path d="M516.17,24.85 L516.17,28.35 M514.66,25.73 L517.69,27.48 M517.69,25.73 L514.66,27.48 " stroke="#111" stroke-width="0.8" stroke-linecap="butt" fill="none"/>
<path d="M519.62,24.85 L519.62,28.35 M518.11,25.73 L521.14,27.48 M521.14,25.73 L518.11,27.48 " stroke="#111" stroke-width="0.8" stroke-linecap="butt" fill="none"/>
<path d="M543.80,30.55 L543.80,34.05 M542.28,31.42 L545.32,33.17 M545.32,31.42 L542.28,33.17 " stroke="#111" stroke-width="0.8" stroke-linecap="butt" fill="none"/>
<line x1="398.20" y1="9.00" x2="404.80" y2="9.00" stroke="#7d8a2a" stroke-width="0.7" />
<line x1="398.20" y1="17.35" x2="404.80" y2="17.35" stroke="#444" stroke-width="0.7" />
<line x1="398.20" y1="25.35" x2="404.80" y2="25.35" stroke="#d63a3a" stroke-width="0.7" />
<line x1="398.20" y1="33.60" x2="404.80" y2="33.60" stroke="#6ec0dc" stroke-width="0.7" />
<polygon points="401.50,7.10 403.40,9.00 401.50,10.90 399.60,9.00" fill="#7d7d22" stroke="#333" stroke-width="0.5"/>
<circle cx="401.50" cy="17.35" r="1.8" fill="#555" stroke="#222" stroke-width="0.6"/>
<rect x="399.60" y="23.45" width="3.8" height="3.8" fill="#e8141c" stroke="#5a0000" stroke-width="0.5"/>
<polygon points="401.50,31.40 399.40,35.10 403.60,35.10" fill="#8fd0ea" stroke="#4a9ab8" stroke-width="0.5"/>
<text x="406.80" y="11.80" font-size="7.2" font-weight="bold" text-anchor="start" fill="#000" textLength="21.7" lengthAdjust="spacingAndGlyphs" >Saline</text>
<text x="406.30" y="20.25" font-size="7.2" font-weight="bold" text-anchor="start" fill="#000" font-style="italic" >WT</text>
<text x="406.30" y="27.95" font-size="7.2" font-weight="bold" text-anchor="start" fill="#000" font-style="italic" >Δ<tspan font-style="italic">cna</tspan></text>
<text x="406.10" y="36.00" font-size="7.3" font-weight="bold" text-anchor="start" fill="#000" >comp <tspan font-style="italic">cna</tspan></text>
<circle cx="632.1" cy="90.6" r="43.6" fill="#ff0000" stroke="#222" stroke-width="0.7"/>
<path d="M632.1,90.6 L632.1,46.99999999999999 A43.6,43.6 0 0 1 663.99,120.34 Z" fill="#525252" stroke="#222" stroke-width="0.7"/>
<circle cx="632.1" cy="90.6" r="43.6" fill="none" stroke="#222" stroke-width="0.8"/>
<text x="597.50" y="34.00" font-size="9.1" font-weight="bold" text-anchor="start" fill="#000" textLength="87.2" lengthAdjust="spacingAndGlyphs" >Skin and soft tissue</text>
<circle cx="632.2" cy="203.0" r="43.6" fill="#ff0000" stroke="#222" stroke-width="0.7"/>
<path d="M632.2,203.0 L632.2,159.4 A43.6,43.6 0 0 1 665.11,231.60 Z" fill="#525252" stroke="#222" stroke-width="0.7"/>
<circle cx="632.2" cy="203.0" r="43.6" fill="none" stroke="#222" stroke-width="0.8"/>
<text x="608.60" y="152.20" font-size="9.1" font-weight="bold" text-anchor="start" fill="#000" textLength="46.6" lengthAdjust="spacingAndGlyphs" >Colonizing</text>
<rect x="640.5" y="271.3" width="9.8" height="5.2" fill="#555" stroke="#111" stroke-width="0.9"/>
<rect x="640.5" y="280.5" width="9.8" height="5.0" fill="#ff0010" stroke="#111" stroke-width="0.9"/>
<text x="655.90" y="276.60" font-size="7.4" font-weight="normal" text-anchor="start" fill="#000" >Cna+</text>
<text x="655.90" y="285.70" font-size="7.4" font-weight="normal" text-anchor="start" fill="#000" >Cna-</text>
<line x1="292.60" y1="170.50" x2="292.60" y2="286.60" stroke="#111" stroke-width="1.3" />
<line x1="292.00" y1="286.00" x2="444.50" y2="286.00" stroke="#111" stroke-width="1.3" />
<line x1="288.80" y1="286.00" x2="292.60" y2="286.00" stroke="#111" stroke-width="0.9" />
<text x="287.60" y="288.65" font-size="7.4" font-weight="bold" text-anchor="end" fill="#222" textLength="10.5" lengthAdjust="spacingAndGlyphs" >0.0</text>
<line x1="288.80" y1="241.25" x2="292.60" y2="241.25" stroke="#111" stroke-width="0.9" />
<text x="287.60" y="243.90" font-size="7.4" font-weight="bold" text-anchor="end" fill="#222" textLength="10.5" lengthAdjust="spacingAndGlyphs" >0.5</text>
<line x1="288.80" y1="196.50" x2="292.60" y2="196.50" stroke="#111" stroke-width="0.9" />
<text x="287.60" y="199.15" font-size="7.4" font-weight="bold" text-anchor="end" fill="#222" textLength="10.5" lengthAdjust="spacingAndGlyphs" >1.0</text>
<line x1="290.30" y1="263.62" x2="292.60" y2="263.62" stroke="#111" stroke-width="0.8" />
<line x1="290.30" y1="218.88" x2="292.60" y2="218.88" stroke="#111" stroke-width="0.8" />
<line x1="290.30" y1="174.12" x2="292.60" y2="174.12" stroke="#111" stroke-width="0.8" />
<line x1="292.70" y1="286.00" x2="292.70" y2="289.80" stroke="#111" stroke-width="0.9" />
<text x="292.70" y="298.00" font-size="7.0" font-weight="bold" text-anchor="middle" fill="#222" >0</text>
<line x1="336.10" y1="286.00" x2="336.10" y2="289.80" stroke="#111" stroke-width="0.9" />
<text x="336.10" y="298.00" font-size="7.0" font-weight="bold" text-anchor="middle" fill="#222" >2</text>
<line x1="379.50" y1="286.00" x2="379.50" y2="289.80" stroke="#111" stroke-width="0.9" />
<text x="379.50" y="298.00" font-size="7.0" font-weight="bold" text-anchor="middle" fill="#222" >4</text>
<line x1="422.90" y1="286.00" x2="422.90" y2="289.80" stroke="#111" stroke-width="0.9" />
<text x="422.90" y="298.00" font-size="7.0" font-weight="bold" text-anchor="middle" fill="#222" >6</text>
<text x="362.20" y="302.30" font-size="9.2" font-weight="bold" text-anchor="middle" fill="#000" >Days</text>
<text x="272.60" y="232.10" font-size="9.65" font-weight="bold" text-anchor="middle" fill="#000" transform="rotate(-90 272.60 232.10)" >Lesion size (cm<tspan font-size="7.6" dy="-3.9">2</tspan><tspan dy="3.9">)</tspan></text>
<line x1="336.10" y1="216.19" x2="336.10" y2="254.05" stroke="#a2a2a2" stroke-width="0.6" />
<line x1="334.10" y1="216.19" x2="338.10" y2="216.19" stroke="#a2a2a2" stroke-width="0.6" />
<line x1="334.10" y1="254.05" x2="338.10" y2="254.05" stroke="#a2a2a2" stroke-width="0.6" />
<line x1="357.80" y1="177.26" x2="357.80" y2="234.99" stroke="#a2a2a2" stroke-width="0.6" />
<line x1="355.80" y1="177.26" x2="359.80" y2="177.26" stroke="#a2a2a2" stroke-width="0.6" />
<line x1="355.80" y1="234.99" x2="359.80" y2="234.99" stroke="#a2a2a2" stroke-width="0.6" />
<line x1="379.50" y1="195.61" x2="379.50" y2="228.72" stroke="#a2a2a2" stroke-width="0.6" />
<line x1="377.50" y1="195.61" x2="381.50" y2="195.61" stroke="#a2a2a2" stroke-width="0.6" />
<line x1="377.50" y1="228.72" x2="381.50" y2="228.72" stroke="#a2a2a2" stroke-width="0.6" />
<line x1="401.20" y1="185.31" x2="401.20" y2="241.25" stroke="#a2a2a2" stroke-width="0.6" />
<line x1="399.20" y1="185.31" x2="403.20" y2="185.31" stroke="#a2a2a2" stroke-width="0.6" />
<line x1="399.20" y1="241.25" x2="403.20" y2="241.25" stroke="#a2a2a2" stroke-width="0.6" />
<line x1="422.90" y1="206.79" x2="422.90" y2="237.13" stroke="#a2a2a2" stroke-width="0.6" />
<line x1="420.90" y1="206.79" x2="424.90" y2="206.79" stroke="#a2a2a2" stroke-width="0.6" />
<line x1="420.90" y1="237.13" x2="424.90" y2="237.13" stroke="#a2a2a2" stroke-width="0.6" />
<line x1="444.60" y1="206.79" x2="444.60" y2="244.29" stroke="#a2a2a2" stroke-width="0.6" />
<line x1="442.60" y1="206.79" x2="446.60" y2="206.79" stroke="#a2a2a2" stroke-width="0.6" />
<line x1="442.60" y1="244.29" x2="446.60" y2="244.29" stroke="#a2a2a2" stroke-width="0.6" />
<line x1="422.90" y1="265.42" x2="422.90" y2="281.52" stroke="#bbb" stroke-width="0.6" />
<line x1="444.60" y1="264.07" x2="444.60" y2="281.97" stroke="#bbb" stroke-width="0.6" />
<polyline points="292.70,286.00 314.40,281.52 336.10,279.38 357.80,277.05 379.50,278.39 401.20,278.39 422.90,281.52 444.60,281.97" stroke="#4fc8c8" stroke-width="0.8" fill="none" />
<polyline points="292.70,286.00 314.40,279.74 336.10,276.15 357.80,267.20 379.50,269.89 401.20,272.57 422.90,265.42 444.60,264.07" stroke="#333" stroke-width="0.8" fill="none" />
<polyline points="292.70,286.00 314.40,281.52 336.10,235.43 357.80,205.90 379.50,212.16 401.20,213.50 422.90,221.83 444.60,225.59" stroke="#d42a2a" stroke-width="0.8" fill="none" />
<polygon points="314.40,279.00 311.98,283.25 316.81,283.25" fill="#9ad8dc" stroke="#2f5f68" stroke-width="0.55"/>
<polygon points="336.10,276.85 333.68,281.10 338.51,281.10" fill="#9ad8dc" stroke="#2f5f68" stroke-width="0.55"/>
<polygon points="357.80,274.52 355.38,278.78 360.21,278.78" fill="#9ad8dc" stroke="#2f5f68" stroke-width="0.55"/>
<polygon points="379.50,275.86 377.08,280.12 381.92,280.12" fill="#9ad8dc" stroke="#2f5f68" stroke-width="0.55"/>
<polygon points="401.20,275.86 398.78,280.12 403.62,280.12" fill="#9ad8dc" stroke="#2f5f68" stroke-width="0.55"/>
<polygon points="422.90,279.00 420.48,283.25 425.31,283.25" fill="#9ad8dc" stroke="#2f5f68" stroke-width="0.55"/>
<polygon points="444.60,279.44 442.19,283.70 447.02,283.70" fill="#9ad8dc" stroke="#2f5f68" stroke-width="0.55"/>
<rect x="311.90" y="279.02" width="5.0" height="5.0" fill="#e8141c" stroke="#4a0000" stroke-width="0.6"/>
<rect x="333.60" y="232.93" width="5.0" height="5.0" fill="#e8141c" stroke="#4a0000" stroke-width="0.6"/>
<rect x="355.30" y="203.40" width="5.0" height="5.0" fill="#e8141c" stroke="#4a0000" stroke-width="0.6"/>
<rect x="377.00" y="209.66" width="5.0" height="5.0" fill="#e8141c" stroke="#4a0000" stroke-width="0.6"/>
<rect x="398.70" y="211.00" width="5.0" height="5.0" fill="#e8141c" stroke="#4a0000" stroke-width="0.6"/>
<rect x="420.40" y="219.33" width="5.0" height="5.0" fill="#e8141c" stroke="#4a0000" stroke-width="0.6"/>
<rect x="442.10" y="223.09" width="5.0" height="5.0" fill="#e8141c" stroke="#4a0000" stroke-width="0.6"/>
<circle cx="292.70" cy="286.00" r="2.9" fill="#4a4a4a" stroke="#1a1a1a" stroke-width="0.6"/>
<circle cx="314.40" cy="279.74" r="2.9" fill="#4a4a4a" stroke="#1a1a1a" stroke-width="0.6"/>
<circle cx="336.10" cy="276.15" r="2.9" fill="#4a4a4a" stroke="#1a1a1a" stroke-width="0.6"/>
<circle cx="357.80" cy="267.20" r="2.9" fill="#4a4a4a" stroke="#1a1a1a" stroke-width="0.6"/>
<circle cx="379.50" cy="269.89" r="2.9" fill="#4a4a4a" stroke="#1a1a1a" stroke-width="0.6"/>
<circle cx="401.20" cy="272.57" r="2.9" fill="#4a4a4a" stroke="#1a1a1a" stroke-width="0.6"/>
<circle cx="422.90" cy="265.42" r="2.9" fill="#4a4a4a" stroke="#1a1a1a" stroke-width="0.6"/>
<circle cx="444.60" cy="264.07" r="2.9" fill="#4a4a4a" stroke="#1a1a1a" stroke-width="0.6"/>
<circle cx="292.70" cy="286.00" r="2.7" fill="#404040" stroke="#111" stroke-width="0.6"/>
<path d="M336.20,205.10 L336.20,210.30 M333.95,206.40 L338.45,209.00 M338.45,206.40 L333.95,209.00 " stroke="#111" stroke-width="1.0" stroke-linecap="butt" fill="none"/>
<path d="M358.20,167.70 L358.20,172.90 M355.95,169.00 L360.45,171.60 M360.45,169.00 L355.95,171.60 " stroke="#111" stroke-width="1.0" stroke-linecap="butt" fill="none"/>
<path d="M378.00,175.10 L378.00,180.30 M375.75,176.40 L380.25,179.00 M380.25,176.40 L375.75,179.00 " stroke="#111" stroke-width="1.0" stroke-linecap="butt" fill="none"/>
<path d="M383.60,175.10 L383.60,180.30 M381.35,176.40 L385.85,179.00 M385.85,176.40 L381.35,179.00 " stroke="#111" stroke-width="1.0" stroke-linecap="butt" fill="none"/>
<path d="M402.10,178.30 L402.10,183.50 M399.85,179.60 L404.35,182.20 M404.35,179.60 L399.85,182.20 " stroke="#111" stroke-width="1.0" stroke-linecap="butt" fill="none"/>
<path d="M423.80,187.40 L423.80,192.60 M421.55,188.70 L426.05,191.30 M426.05,188.70 L421.55,191.30 " stroke="#111" stroke-width="1.0" stroke-linecap="butt" fill="none"/>
<line x1="301.80" y1="151.40" x2="308.40" y2="151.40" stroke="#444" stroke-width="0.7" />
<line x1="301.80" y1="160.90" x2="308.40" y2="160.90" stroke="#d42a2a" stroke-width="0.7" />
<line x1="301.80" y1="171.00" x2="308.40" y2="171.00" stroke="#4fc8c8" stroke-width="0.7" />
<polygon points="305.10,149.10 307.40,151.40 305.10,153.70 302.80,151.40" fill="#555" stroke="#222" stroke-width="0.5"/>
<rect x="303.10" y="158.90" width="4.0" height="4.0" fill="#e8141c" stroke="#4a0000" stroke-width="0.5"/>
<polygon points="305.10,168.91 303.11,172.43 307.10,172.43" fill="#9ad4d8" stroke="#2f6f78" stroke-width="0.5"/>
<text x="313.00" y="154.00" font-size="7.3" font-weight="bold" text-anchor="start" fill="#000" >WT</text>
<text x="313.00" y="163.50" font-size="7.3" font-weight="bold" text-anchor="start" fill="#000" >Δ<tspan font-style="italic">cna</tspan></text>
<text x="313.00" y="173.60" font-size="7.3" font-weight="bold" text-anchor="start" fill="#000" >comp <tspan font-style="italic">cna</tspan></text>
<line x1="490.70" y1="181.00" x2="490.70" y2="284.90" stroke="#555" stroke-width="1.4" />
<line x1="490.10" y1="284.40" x2="567.00" y2="284.40" stroke="#333" stroke-width="1.3" />
<line x1="487.30" y1="284.60" x2="490.70" y2="284.60" stroke="#111" stroke-width="0.9" />
<text x="486.30" y="286.90" font-size="6.4" font-weight="bold" text-anchor="end" fill="#222" textLength="3.0" lengthAdjust="spacingAndGlyphs" >6</text>
<line x1="487.30" y1="267.40" x2="490.70" y2="267.40" stroke="#111" stroke-width="0.9" />
<text x="486.30" y="269.70" font-size="6.4" font-weight="bold" text-anchor="end" fill="#222" textLength="3.0" lengthAdjust="spacingAndGlyphs" >7</text>
<line x1="487.30" y1="250.20" x2="490.70" y2="250.20" stroke="#111" stroke-width="0.9" />
<text x="486.30" y="252.50" font-size="6.4" font-weight="bold" text-anchor="end" fill="#222" textLength="3.0" lengthAdjust="spacingAndGlyphs" >8</text>
<line x1="487.30" y1="233.00" x2="490.70" y2="233.00" stroke="#111" stroke-width="0.9" />
<text x="486.30" y="235.30" font-size="6.4" font-weight="bold" text-anchor="end" fill="#222" textLength="3.0" lengthAdjust="spacingAndGlyphs" >9</text>
<line x1="487.30" y1="215.80" x2="490.70" y2="215.80" stroke="#111" stroke-width="0.9" />
<text x="486.30" y="218.10" font-size="6.4" font-weight="bold" text-anchor="end" fill="#222" textLength="6.0" lengthAdjust="spacingAndGlyphs" >10</text>
<line x1="487.30" y1="198.60" x2="490.70" y2="198.60" stroke="#111" stroke-width="0.9" />
<text x="486.30" y="200.90" font-size="6.4" font-weight="bold" text-anchor="end" fill="#222" textLength="6.0" lengthAdjust="spacingAndGlyphs" >11</text>
<line x1="487.30" y1="181.40" x2="490.70" y2="181.40" stroke="#111" stroke-width="0.9" />
<text x="486.30" y="183.70" font-size="6.4" font-weight="bold" text-anchor="end" fill="#222" textLength="6.0" lengthAdjust="spacingAndGlyphs" >12</text>
<line x1="506.30" y1="284.40" x2="506.30" y2="287.60" stroke="#111" stroke-width="0.9" />
<line x1="528.60" y1="284.40" x2="528.60" y2="287.60" stroke="#111" stroke-width="0.9" />
<line x1="551.90" y1="284.40" x2="551.90" y2="287.60" stroke="#111" stroke-width="0.9" />
<text x="474.90" y="231.05" font-size="9.5" font-weight="bold" text-anchor="middle" fill="#000" transform="rotate(-90 474.90 231.05)" >log cfu/g</text>
<text x="509.30" y="290.60" font-size="9.4" font-weight="bold" text-anchor="end" fill="#000" transform="rotate(-90 509.30 290.60)" >WT</text>
<text x="531.10" y="289.80" font-size="9.4" font-weight="bold" text-anchor="end" fill="#000" transform="rotate(-90 531.10 289.80)" >Δ<tspan font-style="italic">cna</tspan></text>
<text x="554.00" y="290.10" font-size="9.4" font-weight="bold" text-anchor="end" fill="#000" transform="rotate(-90 554.00 290.10)" >comp <tspan font-style="italic">cna</tspan></text>
<polyline points="506.30,212.60 506.30,181.30 527.60,181.30 527.60,185.60" stroke="#555" stroke-width="0.7" fill="none" />
<polyline points="530.30,185.60 530.30,181.30 551.90,181.30 551.90,226.80" stroke="#555" stroke-width="0.7" fill="none" />
<polyline points="506.30,176.50 506.30,168.40 551.60,168.40 551.60,176.50" stroke="#555" stroke-width="0.7" fill="none" />
<path d="M512.20,175.35 L512.20,178.65 M510.77,176.18 L513.63,177.82 M513.63,176.18 L510.77,177.82 " stroke="#111" stroke-width="0.8" stroke-linecap="butt" fill="none"/>
<path d="M515.40,175.35 L515.40,178.65 M513.97,176.18 L516.83,177.82 M516.83,176.18 L513.97,177.82 " stroke="#111" stroke-width="0.8" stroke-linecap="butt" fill="none"/>
<path d="M518.60,175.35 L518.60,178.65 M517.17,176.18 L520.03,177.82 M520.03,176.18 L517.17,177.82 " stroke="#111" stroke-width="0.8" stroke-linecap="butt" fill="none"/>
<path d="M521.80,175.35 L521.80,178.65 M520.37,176.18 L523.23,177.82 M523.23,176.18 L520.37,177.82 " stroke="#111" stroke-width="0.8" stroke-linecap="butt" fill="none"/>
<path d="M536.50,175.35 L536.50,178.65 M535.07,176.18 L537.93,177.82 M537.93,176.18 L535.07,177.82 " stroke="#111" stroke-width="0.8" stroke-linecap="butt" fill="none"/>
<path d="M539.70,175.35 L539.70,178.65 M538.27,176.18 L541.13,177.82 M541.13,176.18 L538.27,177.82 " stroke="#111" stroke-width="0.8" stroke-linecap="butt" fill="none"/>
<path d="M542.90,175.35 L542.90,178.65 M541.47,176.18 L544.33,177.82 M544.33,176.18 L541.47,177.82 " stroke="#111" stroke-width="0.8" stroke-linecap="butt" fill="none"/>
<path d="M546.10,175.35 L546.10,178.65 M544.67,176.18 L547.53,177.82 M547.53,176.18 L544.67,177.82 " stroke="#111" stroke-width="0.8" stroke-linecap="butt" fill="none"/>
<text x="528.80" y="165.60" font-size="6.6" font-weight="normal" text-anchor="middle" fill="#444" >ns</text>
<line x1="499.00" y1="227.60" x2="513.30" y2="227.60" stroke="#222" stroke-width="0.8" />
<circle cx="500.10" cy="217.40" r="1.9" fill="#4a4a4a" stroke="#111" stroke-width="0.6"/>
<circle cx="506.10" cy="215.50" r="1.9" fill="#4a4a4a" stroke="#111" stroke-width="0.6"/>
<circle cx="506.10" cy="219.50" r="1.9" fill="#4a4a4a" stroke="#111" stroke-width="0.6"/>
<circle cx="512.10" cy="215.80" r="1.9" fill="#4a4a4a" stroke="#111" stroke-width="0.6"/>
<circle cx="500.10" cy="227.10" r="1.9" fill="#4a4a4a" stroke="#111" stroke-width="0.6"/>
<circle cx="506.10" cy="227.90" r="1.9" fill="#4a4a4a" stroke="#111" stroke-width="0.6"/>
<circle cx="512.10" cy="227.90" r="1.9" fill="#4a4a4a" stroke="#111" stroke-width="0.6"/>
<circle cx="502.90" cy="253.20" r="1.9" fill="#4a4a4a" stroke="#111" stroke-width="0.6"/>
<circle cx="509.00" cy="253.60" r="1.9" fill="#4a4a4a" stroke="#111" stroke-width="0.6"/>
<circle cx="506.10" cy="258.20" r="1.9" fill="#4a4a4a" stroke="#111" stroke-width="0.6"/>
<circle cx="522.90" cy="189.40" r="1.95" fill="#e8000f" stroke="#400" stroke-width="0.6"/>
<circle cx="526.90" cy="191.50" r="1.95" fill="#e8000f" stroke="#400" stroke-width="0.6"/>
<circle cx="531.00" cy="189.10" r="1.95" fill="#e8000f" stroke="#400" stroke-width="0.6"/>
<circle cx="535.00" cy="189.20" r="1.95" fill="#e8000f" stroke="#400" stroke-width="0.6"/>
<circle cx="522.90" cy="197.20" r="1.95" fill="#e8000f" stroke="#400" stroke-width="0.6"/>
<circle cx="526.90" cy="198.20" r="1.95" fill="#e8000f" stroke="#400" stroke-width="0.6"/>
<circle cx="531.00" cy="197.30" r="1.95" fill="#e8000f" stroke="#400" stroke-width="0.6"/>
<circle cx="535.00" cy="195.00" r="1.95" fill="#e8000f" stroke="#400" stroke-width="0.6"/>
<circle cx="535.00" cy="198.60" r="1.95" fill="#e8000f" stroke="#400" stroke-width="0.6"/>
<circle cx="528.90" cy="203.50" r="1.95" fill="#e8000f" stroke="#400" stroke-width="0.6"/>
<circle cx="551.90" cy="230.50" r="1.9" fill="#7cc4ec" stroke="#1c2c3c" stroke-width="0.6"/>
<circle cx="551.50" cy="247.20" r="1.9" fill="#7cc4ec" stroke="#1c2c3c" stroke-width="0.6"/>
<circle cx="545.70" cy="256.40" r="1.9" fill="#7cc4ec" stroke="#1c2c3c" stroke-width="0.6"/>
<circle cx="549.90" cy="254.80" r="1.9" fill="#7cc4ec" stroke="#1c2c3c" stroke-width="0.6"/>
<circle cx="553.80" cy="256.40" r="1.9" fill="#7cc4ec" stroke="#1c2c3c" stroke-width="0.6"/>
<circle cx="557.90" cy="256.40" r="1.9" fill="#7cc4ec" stroke="#1c2c3c" stroke-width="0.6"/>
<circle cx="551.90" cy="262.10" r="1.9" fill="#7cc4ec" stroke="#1c2c3c" stroke-width="0.6"/>
<circle cx="546.90" cy="274.00" r="1.9" fill="#7cc4ec" stroke="#1c2c3c" stroke-width="0.6"/>
<circle cx="551.50" cy="274.00" r="1.9" fill="#7cc4ec" stroke="#1c2c3c" stroke-width="0.6"/>
<circle cx="556.10" cy="274.00" r="1.9" fill="#7cc4ec" stroke="#1c2c3c" stroke-width="0.6"/>
<line x1="27.30" y1="332.00" x2="27.30" y2="459.30" stroke="#111" stroke-width="1.3" />
<line x1="26.70" y1="458.70" x2="209.60" y2="458.70" stroke="#111" stroke-width="1.3" />
<line x1="23.60" y1="441.00" x2="27.30" y2="441.00" stroke="#111" stroke-width="0.9" />
<text x="23.30" y="443.30" font-size="6.6" font-weight="bold" text-anchor="end" fill="#222" >80</text>
<line x1="23.60" y1="404.80" x2="27.30" y2="404.80" stroke="#111" stroke-width="0.9" />
<text x="23.30" y="407.10" font-size="6.6" font-weight="bold" text-anchor="end" fill="#222" >90</text>
<line x1="23.60" y1="368.60" x2="27.30" y2="368.60" stroke="#111" stroke-width="0.9" />
<text x="23.30" y="370.90" font-size="6.6" font-weight="bold" text-anchor="end" fill="#222" >100</text>
<line x1="23.60" y1="332.40" x2="27.30" y2="332.40" stroke="#111" stroke-width="0.9" />
<text x="23.30" y="334.70" font-size="6.6" font-weight="bold" text-anchor="end" fill="#222" >110</text>
<line x1="27.40" y1="458.70" x2="27.40" y2="461.20" stroke="#111" stroke-width="0.9" />
<text x="27.40" y="470.00" font-size="6.6" font-weight="bold" text-anchor="middle" fill="#222" >0</text>
<line x1="79.40" y1="458.70" x2="79.40" y2="461.20" stroke="#111" stroke-width="0.9" />
<text x="79.40" y="470.00" font-size="6.6" font-weight="bold" text-anchor="middle" fill="#222" >2</text>
<line x1="131.40" y1="458.70" x2="131.40" y2="461.20" stroke="#111" stroke-width="0.9" />
<text x="131.40" y="470.00" font-size="6.6" font-weight="bold" text-anchor="middle" fill="#222" >4</text>
<line x1="183.40" y1="458.70" x2="183.40" y2="461.20" stroke="#111" stroke-width="0.9" />
<text x="183.40" y="470.00" font-size="6.6" font-weight="bold" text-anchor="middle" fill="#222" >6</text>
<text x="111.90" y="488.20" font-size="9.9" font-weight="bold" text-anchor="middle" fill="#000" textLength="21.8" lengthAdjust="spacingAndGlyphs" >Days</text>
<text x="7.50" y="406.10" font-size="9.4" font-weight="bold" text-anchor="middle" fill="#000" transform="rotate(-90 7.50 406.10)" >%Initial Weight</text>
<line x1="53.40" y1="354.12" x2="53.40" y2="458.70" stroke="#8e8e8e" stroke-width="0.45" />
<line x1="51.40" y1="354.12" x2="55.40" y2="354.12" stroke="#8e8e8e" stroke-width="0.45" />
<line x1="51.40" y1="458.70" x2="55.40" y2="458.70" stroke="#8e8e8e" stroke-width="0.45" />
<line x1="53.40" y1="396.11" x2="53.40" y2="426.52" stroke="#a0a0a0" stroke-width="0.45" />
<line x1="51.40" y1="396.11" x2="55.40" y2="396.11" stroke="#a0a0a0" stroke-width="0.45" />
<line x1="51.40" y1="426.52" x2="55.40" y2="426.52" stroke="#a0a0a0" stroke-width="0.45" />
<line x1="53.40" y1="353.40" x2="53.40" y2="370.05" stroke="#8a8a70" stroke-width="0.5" />
<line x1="51.40" y1="353.40" x2="55.40" y2="353.40" stroke="#8a8a70" stroke-width="0.5" />
<line x1="51.40" y1="370.05" x2="55.40" y2="370.05" stroke="#8a8a70" stroke-width="0.5" />
<line x1="79.40" y1="397.56" x2="79.40" y2="458.70" stroke="#8e8e8e" stroke-width="0.45" />
<line x1="77.40" y1="397.56" x2="81.40" y2="397.56" stroke="#8e8e8e" stroke-width="0.45" />
<line x1="77.40" y1="458.70" x2="81.40" y2="458.70" stroke="#8e8e8e" stroke-width="0.45" />
<line x1="79.40" y1="398.65" x2="79.40" y2="441.00" stroke="#a0a0a0" stroke-width="0.45" />
<line x1="77.40" y1="398.65" x2="81.40" y2="398.65" stroke="#a0a0a0" stroke-width="0.45" />
<line x1="77.40" y1="441.00" x2="81.40" y2="441.00" stroke="#a0a0a0" stroke-width="0.45" />
<line x1="79.40" y1="349.41" x2="79.40" y2="368.60" stroke="#8a8a70" stroke-width="0.5" />
<line x1="77.40" y1="349.41" x2="81.40" y2="349.41" stroke="#8a8a70" stroke-width="0.5" />
<line x1="77.40" y1="368.60" x2="81.40" y2="368.60" stroke="#8a8a70" stroke-width="0.5" />
<line x1="105.40" y1="400.82" x2="105.40" y2="458.70" stroke="#8e8e8e" stroke-width="0.45" />
<line x1="103.40" y1="400.82" x2="107.40" y2="400.82" stroke="#8e8e8e" stroke-width="0.45" />
<line x1="103.40" y1="458.70" x2="107.40" y2="458.70" stroke="#8e8e8e" stroke-width="0.45" />
<line x1="105.40" y1="400.82" x2="105.40" y2="441.00" stroke="#a0a0a0" stroke-width="0.45" />
<line x1="103.40" y1="400.82" x2="107.40" y2="400.82" stroke="#a0a0a0" stroke-width="0.45" />
<line x1="103.40" y1="441.00" x2="107.40" y2="441.00" stroke="#a0a0a0" stroke-width="0.45" />
<line x1="105.40" y1="352.31" x2="105.40" y2="368.24" stroke="#8a8a70" stroke-width="0.5" />
<line x1="103.40" y1="352.31" x2="107.40" y2="352.31" stroke="#8a8a70" stroke-width="0.5" />
<line x1="103.40" y1="368.24" x2="107.40" y2="368.24" stroke="#8a8a70" stroke-width="0.5" />
<line x1="131.40" y1="409.51" x2="131.40" y2="458.70" stroke="#8e8e8e" stroke-width="0.45" />
<line x1="129.40" y1="409.51" x2="133.40" y2="409.51" stroke="#8e8e8e" stroke-width="0.45" />
<line x1="129.40" y1="458.70" x2="133.40" y2="458.70" stroke="#8e8e8e" stroke-width="0.45" />
<line x1="131.40" y1="396.47" x2="131.40" y2="448.24" stroke="#a0a0a0" stroke-width="0.45" />
<line x1="129.40" y1="396.47" x2="133.40" y2="396.47" stroke="#a0a0a0" stroke-width="0.45" />
<line x1="129.40" y1="448.24" x2="133.40" y2="448.24" stroke="#a0a0a0" stroke-width="0.45" />
<line x1="131.40" y1="360.27" x2="131.40" y2="371.86" stroke="#8a8a70" stroke-width="0.5" />
<line x1="129.40" y1="360.27" x2="133.40" y2="360.27" stroke="#8a8a70" stroke-width="0.5" />
<line x1="129.40" y1="371.86" x2="133.40" y2="371.86" stroke="#8a8a70" stroke-width="0.5" />
<line x1="157.40" y1="401.18" x2="157.40" y2="458.70" stroke="#8e8e8e" stroke-width="0.45" />
<line x1="155.40" y1="401.18" x2="159.40" y2="401.18" stroke="#8e8e8e" stroke-width="0.45" />
<line x1="155.40" y1="458.70" x2="159.40" y2="458.70" stroke="#8e8e8e" stroke-width="0.45" />
<line x1="157.40" y1="398.28" x2="157.40" y2="441.00" stroke="#a0a0a0" stroke-width="0.45" />
<line x1="155.40" y1="398.28" x2="159.40" y2="398.28" stroke="#a0a0a0" stroke-width="0.45" />
<line x1="155.40" y1="441.00" x2="159.40" y2="441.00" stroke="#a0a0a0" stroke-width="0.45" />
<line x1="157.40" y1="358.83" x2="157.40" y2="368.60" stroke="#8a8a70" stroke-width="0.5" />
<line x1="155.40" y1="358.83" x2="159.40" y2="358.83" stroke="#8a8a70" stroke-width="0.5" />
<line x1="155.40" y1="368.60" x2="159.40" y2="368.60" stroke="#8a8a70" stroke-width="0.5" />
<line x1="183.40" y1="422.90" x2="183.40" y2="458.70" stroke="#8e8e8e" stroke-width="0.45" />
<line x1="181.40" y1="422.90" x2="185.40" y2="422.90" stroke="#8e8e8e" stroke-width="0.45" />
<line x1="181.40" y1="458.70" x2="185.40" y2="458.70" stroke="#8e8e8e" stroke-width="0.45" />
<line x1="183.40" y1="395.75" x2="183.40" y2="441.00" stroke="#a0a0a0" stroke-width="0.45" />
<line x1="181.40" y1="395.75" x2="185.40" y2="395.75" stroke="#a0a0a0" stroke-width="0.45" />
<line x1="181.40" y1="441.00" x2="185.40" y2="441.00" stroke="#a0a0a0" stroke-width="0.45" />
<line x1="183.40" y1="354.12" x2="183.40" y2="368.60" stroke="#8a8a70" stroke-width="0.5" />
<line x1="181.40" y1="354.12" x2="185.40" y2="354.12" stroke="#8a8a70" stroke-width="0.5" />
<line x1="181.40" y1="368.60" x2="185.40" y2="368.60" stroke="#8a8a70" stroke-width="0.5" />
<line x1="209.40" y1="426.52" x2="209.40" y2="458.70" stroke="#8e8e8e" stroke-width="0.45" />
<line x1="207.40" y1="426.52" x2="211.40" y2="426.52" stroke="#8e8e8e" stroke-width="0.45" />
<line x1="207.40" y1="458.70" x2="211.40" y2="458.70" stroke="#8e8e8e" stroke-width="0.45" />
<line x1="209.40" y1="391.41" x2="209.40" y2="433.76" stroke="#a0a0a0" stroke-width="0.45" />
<line x1="207.40" y1="391.41" x2="211.40" y2="391.41" stroke="#a0a0a0" stroke-width="0.45" />
<line x1="207.40" y1="433.76" x2="211.40" y2="433.76" stroke="#a0a0a0" stroke-width="0.45" />
<line x1="209.40" y1="350.86" x2="209.40" y2="364.62" stroke="#8a8a70" stroke-width="0.5" />
<line x1="207.40" y1="350.86" x2="211.40" y2="350.86" stroke="#8a8a70" stroke-width="0.5" />
<line x1="207.40" y1="364.62" x2="211.40" y2="364.62" stroke="#8a8a70" stroke-width="0.5" />
<polyline points="27.40,368.60 53.40,417.11 79.40,445.34 105.40,446.07 131.40,446.43 157.40,447.15 183.40,448.24 209.40,445.71" stroke="#333" stroke-width="0.8" fill="none" />
<polyline points="27.40,368.60 53.40,405.16 79.40,409.51 105.40,405.52 131.40,406.25 157.40,410.23 183.40,409.51 209.40,409.51" stroke="#d42a2a" stroke-width="0.8" fill="none" />
<polyline points="27.40,368.60 53.40,362.81 79.40,358.10 105.40,359.91 131.40,365.70 157.40,363.53 183.40,359.55 209.40,357.38" stroke="#6d7a1a" stroke-width="0.8" fill="none" />
<rect x="50.80" y="414.51" width="5.2" height="5.2" fill="#555" stroke="#111" stroke-width="0.6"/>
<rect x="76.80" y="442.74" width="5.2" height="5.2" fill="#555" stroke="#111" stroke-width="0.6"/>
<rect x="102.80" y="443.47" width="5.2" height="5.2" fill="#555" stroke="#111" stroke-width="0.6"/>
<rect x="128.80" y="443.83" width="5.2" height="5.2" fill="#555" stroke="#111" stroke-width="0.6"/>
<rect x="154.80" y="444.55" width="5.2" height="5.2" fill="#555" stroke="#111" stroke-width="0.6"/>
<rect x="180.80" y="445.64" width="5.2" height="5.2" fill="#555" stroke="#111" stroke-width="0.6"/>
<rect x="206.80" y="443.11" width="5.2" height="5.2" fill="#555" stroke="#111" stroke-width="0.6"/>
<circle cx="53.40" cy="405.16" r="2.7" fill="#e8141c" stroke="#300" stroke-width="0.6"/>
<circle cx="79.40" cy="409.51" r="2.7" fill="#e8141c" stroke="#300" stroke-width="0.6"/>
<circle cx="105.40" cy="405.52" r="2.7" fill="#e8141c" stroke="#300" stroke-width="0.6"/>
<circle cx="131.40" cy="406.25" r="2.7" fill="#e8141c" stroke="#300" stroke-width="0.6"/>
<circle cx="157.40" cy="410.23" r="2.7" fill="#e8141c" stroke="#300" stroke-width="0.6"/>
<circle cx="183.40" cy="409.51" r="2.7" fill="#e8141c" stroke="#300" stroke-width="0.6"/>
<circle cx="209.40" cy="409.51" r="2.7" fill="#e8141c" stroke="#300" stroke-width="0.6"/>
<circle cx="53.40" cy="362.81" r="2.8" fill="#768a18" stroke="#222" stroke-width="0.6"/>
<circle cx="79.40" cy="358.10" r="2.8" fill="#768a18" stroke="#222" stroke-width="0.6"/>
<circle cx="105.40" cy="359.91" r="2.8" fill="#768a18" stroke="#222" stroke-width="0.6"/>
<circle cx="131.40" cy="365.70" r="2.8" fill="#768a18" stroke="#222" stroke-width="0.6"/>
<circle cx="157.40" cy="363.53" r="2.8" fill="#768a18" stroke="#222" stroke-width="0.6"/>
<circle cx="183.40" cy="359.55" r="2.8" fill="#768a18" stroke="#222" stroke-width="0.6"/>
<circle cx="209.40" cy="357.38" r="2.8" fill="#768a18" stroke="#222" stroke-width="0.6"/>
<rect x="24.90" y="366.10" width="5.0" height="5.0" fill="#7a7a1a" stroke="#111" stroke-width="0.8"/>
<line x1="42.20" y1="326.90" x2="49.20" y2="326.90" stroke="#6d7a1a" stroke-width="0.7" />
<line x1="42.20" y1="335.80" x2="49.20" y2="335.80" stroke="#333" stroke-width="0.7" />
<line x1="42.20" y1="345.10" x2="49.20" y2="345.10" stroke="#d42a2a" stroke-width="0.7" />
<circle cx="45.70" cy="326.90" r="2.4" fill="#768a18" stroke="#222" stroke-width="0.6"/>
<rect x="43.60" y="333.70" width="4.2" height="4.2" fill="#555" stroke="#111" stroke-width="0.6"/>
<circle cx="45.70" cy="345.10" r="2.4" fill="#e8141c" stroke="#300" stroke-width="0.6"/>
<text x="51.50" y="329.50" font-size="7.6" font-weight="bold" text-anchor="start" fill="#000" >Saline</text>
<text x="51.50" y="338.40" font-size="7.6" font-weight="bold" text-anchor="start" fill="#000" >USA300</text>
<text x="51.50" y="347.70" font-size="7.6" font-weight="bold" text-anchor="start" fill="#000" >USA300:<tspan font-style="italic">pCna</tspan></text>
<line x1="379.70" y1="337.60" x2="379.70" y2="459.80" stroke="#111" stroke-width="1.3" />
<line x1="379.10" y1="459.20" x2="551.00" y2="459.20" stroke="#111" stroke-width="1.3" />
<line x1="375.90" y1="459.20" x2="379.70" y2="459.20" stroke="#111" stroke-width="0.9" />
<text x="374.20" y="461.50" font-size="6.6" font-weight="bold" text-anchor="end" fill="#222" textLength="8.9" lengthAdjust="spacingAndGlyphs" >0.0</text>
<line x1="375.90" y1="434.92" x2="379.70" y2="434.92" stroke="#111" stroke-width="0.9" />
<text x="374.20" y="437.22" font-size="6.6" font-weight="bold" text-anchor="end" fill="#222" textLength="8.9" lengthAdjust="spacingAndGlyphs" >0.5</text>
<line x1="375.90" y1="410.64" x2="379.70" y2="410.64" stroke="#111" stroke-width="0.9" />
<text x="374.20" y="412.94" font-size="6.6" font-weight="bold" text-anchor="end" fill="#222" textLength="8.9" lengthAdjust="spacingAndGlyphs" >1.0</text>
<line x1="375.90" y1="386.36" x2="379.70" y2="386.36" stroke="#111" stroke-width="0.9" />
<text x="374.20" y="388.66" font-size="6.6" font-weight="bold" text-anchor="end" fill="#222" textLength="8.9" lengthAdjust="spacingAndGlyphs" >1.5</text>
<line x1="375.90" y1="362.08" x2="379.70" y2="362.08" stroke="#111" stroke-width="0.9" />
<text x="374.20" y="364.38" font-size="6.6" font-weight="bold" text-anchor="end" fill="#222" textLength="8.9" lengthAdjust="spacingAndGlyphs" >2.0</text>
<line x1="375.90" y1="337.80" x2="379.70" y2="337.80" stroke="#111" stroke-width="0.9" />
<text x="374.20" y="340.10" font-size="6.6" font-weight="bold" text-anchor="end" fill="#222" textLength="8.9" lengthAdjust="spacingAndGlyphs" >2.5</text>
<line x1="379.30" y1="459.20" x2="379.30" y2="461.80" stroke="#111" stroke-width="0.9" />
<text x="379.30" y="470.30" font-size="6.6" font-weight="bold" text-anchor="middle" fill="#222" >0</text>
<line x1="428.40" y1="459.20" x2="428.40" y2="461.80" stroke="#111" stroke-width="0.9" />
<text x="428.40" y="470.30" font-size="6.6" font-weight="bold" text-anchor="middle" fill="#222" >2</text>
<line x1="477.50" y1="459.20" x2="477.50" y2="461.80" stroke="#111" stroke-width="0.9" />
<text x="477.50" y="470.30" font-size="6.6" font-weight="bold" text-anchor="middle" fill="#222" >4</text>
<line x1="526.60" y1="459.20" x2="526.60" y2="461.80" stroke="#111" stroke-width="0.9" />
<text x="526.60" y="470.30" font-size="6.6" font-weight="bold" text-anchor="middle" fill="#222" >6</text>
<text x="466.50" y="478.10" font-size="10.3" font-weight="bold" text-anchor="middle" fill="#000" textLength="21.5" lengthAdjust="spacingAndGlyphs" >Days</text>
<text x="359.80" y="404.00" font-size="9.4" font-weight="bold" text-anchor="middle" fill="#000" transform="rotate(-90 359.80 404.00)" >Lesion size (cm<tspan font-size="7.2" dy="-3.8">2</tspan><tspan dy="3.8">)</tspan></text>
<line x1="428.40" y1="448.03" x2="428.40" y2="452.89" stroke="#aaa" stroke-width="0.6" />
<line x1="426.20" y1="448.03" x2="430.60" y2="448.03" stroke="#aaa" stroke-width="0.6" />
<line x1="426.20" y1="452.89" x2="430.60" y2="452.89" stroke="#aaa" stroke-width="0.6" />
<line x1="428.40" y1="451.92" x2="428.40" y2="455.80" stroke="#aaa" stroke-width="0.6" />
<line x1="426.20" y1="451.92" x2="430.60" y2="451.92" stroke="#aaa" stroke-width="0.6" />
<line x1="426.20" y1="455.80" x2="430.60" y2="455.80" stroke="#aaa" stroke-width="0.6" />
<line x1="452.95" y1="434.92" x2="452.95" y2="448.03" stroke="#aaa" stroke-width="0.6" />
<line x1="450.75" y1="434.92" x2="455.15" y2="434.92" stroke="#aaa" stroke-width="0.6" />
<line x1="450.75" y1="448.03" x2="455.15" y2="448.03" stroke="#aaa" stroke-width="0.6" />
<line x1="452.95" y1="447.55" x2="452.95" y2="456.29" stroke="#aaa" stroke-width="0.6" />
<line x1="450.75" y1="447.55" x2="455.15" y2="447.55" stroke="#aaa" stroke-width="0.6" />
<line x1="450.75" y1="456.29" x2="455.15" y2="456.29" stroke="#aaa" stroke-width="0.6" />
<line x1="477.50" y1="431.04" x2="477.50" y2="442.69" stroke="#aaa" stroke-width="0.6" />
<line x1="475.30" y1="431.04" x2="479.70" y2="431.04" stroke="#aaa" stroke-width="0.6" />
<line x1="475.30" y1="442.69" x2="479.70" y2="442.69" stroke="#aaa" stroke-width="0.6" />
<line x1="477.50" y1="448.03" x2="477.50" y2="456.77" stroke="#aaa" stroke-width="0.6" />
<line x1="475.30" y1="448.03" x2="479.70" y2="448.03" stroke="#aaa" stroke-width="0.6" />
<line x1="475.30" y1="456.77" x2="479.70" y2="456.77" stroke="#aaa" stroke-width="0.6" />
<line x1="502.05" y1="425.21" x2="502.05" y2="439.29" stroke="#aaa" stroke-width="0.6" />
<line x1="499.85" y1="425.21" x2="504.25" y2="425.21" stroke="#aaa" stroke-width="0.6" />
<line x1="499.85" y1="439.29" x2="504.25" y2="439.29" stroke="#aaa" stroke-width="0.6" />
<line x1="502.05" y1="445.12" x2="502.05" y2="457.74" stroke="#aaa" stroke-width="0.6" />
<line x1="499.85" y1="445.12" x2="504.25" y2="445.12" stroke="#aaa" stroke-width="0.6" />
<line x1="499.85" y1="457.74" x2="504.25" y2="457.74" stroke="#aaa" stroke-width="0.6" />
<line x1="526.60" y1="397.04" x2="526.60" y2="447.06" stroke="#aaa" stroke-width="0.6" />
<line x1="524.40" y1="397.04" x2="528.80" y2="397.04" stroke="#aaa" stroke-width="0.6" />
<line x1="524.40" y1="447.06" x2="528.80" y2="447.06" stroke="#aaa" stroke-width="0.6" />
<line x1="526.60" y1="446.57" x2="526.60" y2="457.74" stroke="#aaa" stroke-width="0.6" />
<line x1="524.40" y1="446.57" x2="528.80" y2="446.57" stroke="#aaa" stroke-width="0.6" />
<line x1="524.40" y1="457.74" x2="528.80" y2="457.74" stroke="#aaa" stroke-width="0.6" />
<line x1="551.15" y1="355.77" x2="551.15" y2="427.64" stroke="#aaa" stroke-width="0.6" />
<line x1="548.95" y1="355.77" x2="553.35" y2="355.77" stroke="#aaa" stroke-width="0.6" />
<line x1="548.95" y1="427.64" x2="553.35" y2="427.64" stroke="#aaa" stroke-width="0.6" />
<line x1="551.15" y1="427.15" x2="551.15" y2="458.96" stroke="#aaa" stroke-width="0.6" />
<line x1="548.95" y1="427.15" x2="553.35" y2="427.15" stroke="#aaa" stroke-width="0.6" />
<line x1="548.95" y1="458.96" x2="553.35" y2="458.96" stroke="#aaa" stroke-width="0.6" />
<polyline points="379.30,459.20 403.85,454.83 428.40,454.34 452.95,451.67 477.50,452.40 502.05,451.19 526.60,451.43 551.15,442.93" stroke="#d42a2a" stroke-width="0.8" fill="none" />
<polyline points="379.30,459.20 403.85,454.64 428.40,450.46 452.95,443.18 477.50,437.35 502.05,432.01 526.60,421.32 551.15,395.59" stroke="#333" stroke-width="0.8" fill="none" />
<rect x="376.30" y="456.20" width="6.0" height="6.0" fill="#e8141c" stroke="#300" stroke-width="0.7"/>
<rect x="400.85" y="451.83" width="6.0" height="6.0" fill="#e8141c" stroke="#300" stroke-width="0.7"/>
<rect x="425.40" y="451.34" width="6.0" height="6.0" fill="#e8141c" stroke="#300" stroke-width="0.7"/>
<rect x="449.95" y="448.67" width="6.0" height="6.0" fill="#e8141c" stroke="#300" stroke-width="0.7"/>
<rect x="474.50" y="449.40" width="6.0" height="6.0" fill="#e8141c" stroke="#300" stroke-width="0.7"/>
<rect x="499.05" y="448.19" width="6.0" height="6.0" fill="#e8141c" stroke="#300" stroke-width="0.7"/>
<rect x="523.60" y="448.43" width="6.0" height="6.0" fill="#e8141c" stroke="#300" stroke-width="0.7"/>
<rect x="548.15" y="439.93" width="6.0" height="6.0" fill="#e8141c" stroke="#300" stroke-width="0.7"/>
<circle cx="379.30" cy="459.20" r="3.3" fill="#4e4e4e" stroke="#111" stroke-width="0.7"/>
<circle cx="403.85" cy="454.64" r="3.3" fill="#4e4e4e" stroke="#111" stroke-width="0.7"/>
<circle cx="428.40" cy="450.46" r="3.3" fill="#4e4e4e" stroke="#111" stroke-width="0.7"/>
<circle cx="452.95" cy="443.18" r="3.3" fill="#4e4e4e" stroke="#111" stroke-width="0.7"/>
<circle cx="477.50" cy="437.35" r="3.3" fill="#4e4e4e" stroke="#111" stroke-width="0.7"/>
<circle cx="502.05" cy="432.01" r="3.3" fill="#4e4e4e" stroke="#111" stroke-width="0.7"/>
<circle cx="526.60" cy="421.32" r="3.3" fill="#4e4e4e" stroke="#111" stroke-width="0.7"/>
<circle cx="551.15" cy="395.59" r="3.3" fill="#4e4e4e" stroke="#111" stroke-width="0.7"/>
<rect x="400.85" y="451.73" width="6.0" height="6.0" fill="#555" stroke="#111" stroke-width="0.7"/>
<path d="M475.30,399.30 L475.30,404.90 M472.88,400.70 L477.72,403.50 M477.72,400.70 L472.88,403.50 " stroke="#111" stroke-width="1.0" stroke-linecap="butt" fill="none"/>
<path d="M480.80,399.30 L480.80,404.90 M478.38,400.70 L483.22,403.50 M483.22,400.70 L478.38,403.50 " stroke="#111" stroke-width="1.0" stroke-linecap="butt" fill="none"/>
<path d="M499.40,390.70 L499.40,396.30 M496.98,392.10 L501.82,394.90 M501.82,392.10 L496.98,394.90 " stroke="#111" stroke-width="1.0" stroke-linecap="butt" fill="none"/>
<path d="M504.90,390.70 L504.90,396.30 M502.48,392.10 L507.32,394.90 M507.32,392.10 L502.48,394.90 " stroke="#111" stroke-width="1.0" stroke-linecap="butt" fill="none"/>
<line x1="403.50" y1="345.50" x2="411.30" y2="345.50" stroke="#333" stroke-width="0.8" />
<circle cx="407.40" cy="345.50" r="3.0" fill="#4e4e4e" stroke="#111" stroke-width="0.7"/>
<line x1="403.50" y1="357.30" x2="411.30" y2="357.30" stroke="#d42a2a" stroke-width="0.8" />
<rect x="404.50" y="354.40" width="5.8" height="5.8" fill="#e8141c" stroke="#300" stroke-width="0.7"/>
<text x="414.10" y="348.30" font-size="7.8" font-weight="bold" text-anchor="start" fill="#000" >USA300</text>
<text x="414.10" y="360.10" font-size="7.8" font-weight="bold" text-anchor="start" fill="#000" >USA300:<tspan font-style="italic">pCna</tspan></text>
<line x1="593.20" y1="360.60" x2="593.20" y2="458.90" stroke="#111" stroke-width="1.1" />
<line x1="592.60" y1="458.40" x2="662.00" y2="458.40" stroke="#111" stroke-width="1.1" />
<line x1="590.00" y1="458.30" x2="593.20" y2="458.30" stroke="#111" stroke-width="0.8" />
<text x="589.30" y="460.40" font-size="6.0" font-weight="bold" text-anchor="end" fill="#222" textLength="2.8" lengthAdjust="spacingAndGlyphs" >5</text>
<line x1="590.00" y1="442.05" x2="593.20" y2="442.05" stroke="#111" stroke-width="0.8" />
<text x="589.30" y="444.15" font-size="6.0" font-weight="bold" text-anchor="end" fill="#222" textLength="2.8" lengthAdjust="spacingAndGlyphs" >6</text>
<line x1="590.00" y1="425.80" x2="593.20" y2="425.80" stroke="#111" stroke-width="0.8" />
<text x="589.30" y="427.90" font-size="6.0" font-weight="bold" text-anchor="end" fill="#222" textLength="2.8" lengthAdjust="spacingAndGlyphs" >7</text>
<line x1="590.00" y1="409.55" x2="593.20" y2="409.55" stroke="#111" stroke-width="0.8" />
<text x="589.30" y="411.65" font-size="6.0" font-weight="bold" text-anchor="end" fill="#222" textLength="2.8" lengthAdjust="spacingAndGlyphs" >8</text>
<line x1="590.00" y1="393.30" x2="593.20" y2="393.30" stroke="#111" stroke-width="0.8" />
<text x="589.30" y="395.40" font-size="6.0" font-weight="bold" text-anchor="end" fill="#222" textLength="2.8" lengthAdjust="spacingAndGlyphs" >9</text>
<line x1="590.00" y1="377.05" x2="593.20" y2="377.05" stroke="#111" stroke-width="0.8" />
<text x="589.30" y="379.15" font-size="6.0" font-weight="bold" text-anchor="end" fill="#222" textLength="5.6" lengthAdjust="spacingAndGlyphs" >10</text>
<line x1="590.00" y1="360.80" x2="593.20" y2="360.80" stroke="#111" stroke-width="0.8" />
<text x="589.30" y="362.90" font-size="6.0" font-weight="bold" text-anchor="end" fill="#222" textLength="5.6" lengthAdjust="spacingAndGlyphs" >11</text>
<line x1="614.00" y1="458.40" x2="614.00" y2="461.20" stroke="#111" stroke-width="0.8" />
<line x1="645.20" y1="458.40" x2="645.20" y2="461.20" stroke="#111" stroke-width="0.8" />
<text x="580.10" y="402.80" font-size="9.5" font-weight="bold" text-anchor="middle" fill="#000" transform="rotate(-90 580.10 402.80)" >log cfu/g</text>
<text x="616.50" y="464.90" font-size="9.0" font-weight="bold" text-anchor="end" fill="#000" transform="rotate(-90 616.50 464.90)" >USA300</text>
<text x="646.10" y="462.40" font-size="9.0" font-weight="bold" text-anchor="end" fill="#000" transform="rotate(-90 646.10 462.40)" >USA300:<tspan font-style="italic">pCna</tspan></text>
<text x="629.80" y="354.30" font-size="7.2" font-weight="bold" text-anchor="middle" fill="#000" textLength="33.4" lengthAdjust="spacingAndGlyphs" >P= 0.0305</text>
<polyline points="614.20,370.80 614.20,366.30 645.70,366.30 645.70,390.60" stroke="#333" stroke-width="0.7" fill="none" />
<path d="M629.60,360.40 L629.60,363.60 M628.21,361.20 L630.99,362.80 M630.99,361.20 L628.21,362.80 " stroke="#111" stroke-width="0.8" stroke-linecap="butt" fill="none"/>
<line x1="603.50" y1="378.70" x2="624.10" y2="378.70" stroke="#c5b8d6" stroke-width="1.0" />
<line x1="635.00" y1="408.60" x2="655.50" y2="408.60" stroke="#c5b8d6" stroke-width="1.0" />
<circle cx="611.00" cy="373.70" r="1.8" fill="#4a4a4a" stroke="#111" stroke-width="0.5"/>
<circle cx="617.70" cy="374.00" r="1.8" fill="#4a4a4a" stroke="#111" stroke-width="0.5"/>
<circle cx="614.20" cy="378.20" r="1.8" fill="#4a4a4a" stroke="#111" stroke-width="0.5"/>
<circle cx="614.20" cy="388.70" r="1.8" fill="#4a4a4a" stroke="#111" stroke-width="0.5"/>
<circle cx="614.20" cy="391.90" r="1.8" fill="#4a4a4a" stroke="#111" stroke-width="0.5"/>
<circle cx="645.20" cy="394.50" r="1.7" fill="#e8000f" stroke="#400" stroke-width="0.5"/>
<circle cx="645.20" cy="403.80" r="1.7" fill="#e8000f" stroke="#400" stroke-width="0.5"/>
<circle cx="645.20" cy="409.00" r="1.7" fill="#e8000f" stroke="#400" stroke-width="0.5"/>
<circle cx="645.20" cy="429.20" r="1.7" fill="#e8000f" stroke="#400" stroke-width="0.5"/>
<circle cx="645.20" cy="446.20" r="1.7" fill="#e8000f" stroke="#400" stroke-width="0.5"/>
<g clip-path="url(#cpc1)">
<rect x="67.6" y="141.4" width="66.3" height="68.3" fill="url(#gc1)"/>
<path d="M62,136 L92,136 C86,155 78,170 62,186 Z" fill="#c9c3bf" filter="url(#bl3)" opacity="1.0"/>
<path d="M114,136 L138,136 L138,192 C130,178 121,160 114,136 Z" fill="#efeeed" filter="url(#bl3)" opacity="1.0"/>
<ellipse cx="70" cy="146" rx="4" ry="5" fill="#cdd0e0" filter="url(#bl2)" opacity="0.6"/>
<ellipse cx="124" cy="178" rx="7" ry="10" fill="#c8bcbc" filter="url(#bl3)" opacity="0.7"/>
<ellipse cx="80" cy="198" rx="10" ry="8" fill="#6e5444" filter="url(#bl3)" opacity="0.5"/>
<ellipse cx="68.5" cy="195" rx="1.2" ry="16" fill="#bab4ae" filter="url(#bl1)" opacity="0.8"/>
<ellipse cx="74" cy="210" rx="9" ry="6" fill="#9a8a7c" filter="url(#bl3)" opacity="0.8"/>
<rect x="37.599999999999994" y="111.4" width="126.3" height="128.3" filter="url(#fur)" opacity="0.06" transform="rotate(-62 100.75 175.55)"/>
</g>
<line x1="114.10" y1="206.90" x2="130.80" y2="206.90" stroke="#151515" stroke-width="1.1" />
<text x="122.60" y="205.60" font-size="3.4" font-weight="bold" text-anchor="middle" fill="#151515" >1 cm</text>
<g clip-path="url(#cpc2)">
<rect x="155.1" y="141.4" width="66.3" height="68.3" fill="#e4e0df"/>
<path d="M170,136 L217,136 C220,160 221,185 219,206 C210,207 200,205 192,201 C184,197 176,191 170,187 C163,181 160,170 162,158 C164,150 167,143 170,136 Z" fill="#c9bab7" filter="url(#bl2)" opacity="1.0"/>
<ellipse cx="196" cy="165" rx="14" ry="18" fill="#cdc0be" filter="url(#bl4)" opacity="0.7"/>
<ellipse cx="170" cy="178" rx="6" ry="10" fill="#b9a3a0" filter="url(#bl3)" opacity="0.6"/>
<ellipse cx="205" cy="195" rx="12" ry="8" fill="#c2b0ac" filter="url(#bl3)" opacity="0.7"/>
<ellipse cx="160" cy="165" rx="4" ry="22" fill="#dcd8d7" filter="url(#bl3)" opacity="0.8"/>
<ellipse cx="222" cy="175" rx="3" ry="40" fill="#efeeee" filter="url(#bl2)" opacity="1.0"/>
<ellipse cx="179.6" cy="171.8" rx="5.3" ry="5.0" fill="#86442c" filter="url(#bl1)" opacity="1.0"/>
<ellipse cx="178.4" cy="171.0" rx="3.2" ry="3.0" fill="#6e3520" filter="url(#bl1)" opacity="1.0"/>
<ellipse cx="181.5" cy="173" rx="1.6" ry="1.6" fill="#a8683c" filter="url(#bl1)" opacity="0.7"/>
<rect x="125.1" y="111.4" width="126.3" height="128.3" filter="url(#fur)" opacity="0.06" transform="rotate(-62 188.25 175.55)"/>
</g>
<line x1="201.60" y1="206.90" x2="218.30" y2="206.90" stroke="#151515" stroke-width="1.1" />
<text x="210.10" y="205.60" font-size="3.4" font-weight="bold" text-anchor="middle" fill="#151515" >1 cm</text>
<g clip-path="url(#cpc3)">
<rect x="67.6" y="220.6" width="66.3" height="67.6" fill="#cac4c1"/>
<path d="M114,214 L140,214 L140,294 L125,294 C123,280 121,265 119,252 C118,240 116,228 114,214 Z" fill="#fbfbfb" filter="url(#bl3)" opacity="1.0"/>
<ellipse cx="104" cy="240" rx="6" ry="14" fill="#dad6d5" filter="url(#bl3)" opacity="0.7"/>
<ellipse cx="72" cy="262" rx="4" ry="22" fill="#d2ccc8" filter="url(#bl3)" opacity="0.7"/>
<ellipse cx="88" cy="283" rx="14" ry="6" fill="#c8bcb6" filter="url(#bl3)" opacity="0.7"/>
<ellipse cx="88" cy="266" rx="16" ry="16" fill="#c8b4b0" filter="url(#bl4)" opacity="0.6"/>
<path d="M65.6,218.6 L72.6,218.6 C71.6,224.6 70.6,228.6 69.6,232.6 L65.6,233.6 Z" fill="#2a46b8" filter="url(#bl1)"/>
<path d="M78.8,257.6 C82,256.6 85.5,256 88.6,255.4 C90,253.4 91.3,252.6 92.8,252.8 C94.4,252.4 96.0,253.2 97.4,255.2 C98.4,257.8 98.8,260 99.0,262 C99.9,265 100.2,268 99.9,271 C99.6,273.5 99.2,275 98.6,275.8 C96.6,277.6 93.4,278.0 90,277.6 C86.4,277.8 83.4,276.8 81.8,275 C80,272.8 79.2,270.6 79.0,268.2 C78.2,264.6 78.0,260.6 78.8,257.6 Z" fill="#9c4232" filter="url(#bl1)"/>
<path d="M77.6,257.2 C81,255.6 85.5,255 88.4,254.4 C89.8,252.2 91.3,251.4 92.8,251.7 C94.6,251.2 96.6,252.3 98.2,254.6 C99.4,257.4 99.8,259.8 100.0,261.8 C101.0,265 101.2,268 100.9,271 C100.6,273.5 100.2,275.5 99.4,276.6" stroke="#e2d6a2" stroke-width="1.5" fill="none" filter="url(#bl1)"/>
<ellipse cx="90" cy="270" rx="7" ry="6" fill="#8c3226" filter="url(#bl2)" opacity="0.8"/>
<ellipse cx="93" cy="259" rx="4" ry="3" fill="#b0604e" filter="url(#bl2)" opacity="0.6"/>
<rect x="37.599999999999994" y="190.6" width="126.3" height="127.6" filter="url(#fur)" opacity="0.06" transform="rotate(-62 100.75 254.39999999999998)"/>
</g>
<line x1="114.10" y1="285.40" x2="130.80" y2="285.40" stroke="#151515" stroke-width="1.1" />
<text x="122.60" y="284.10" font-size="3.4" font-weight="bold" text-anchor="middle" fill="#151515" >1 cm</text>
<g clip-path="url(#cpc4)">
<rect x="155.1" y="220.6" width="66.3" height="67.6" fill="#ae9698"/>
<path d="M150.1,215.6 L162.1,215.6 L160.1,260.6 L165.1,292.6 L150.1,292.6 Z" fill="#d2ccc2" filter="url(#bl2)" opacity="1.0"/>
<ellipse cx="201.1" cy="242.6" rx="16" ry="22" fill="#a08c90" filter="url(#bl4)" opacity="0.8"/>
<ellipse cx="173.1" cy="275.6" rx="14" ry="14" fill="#c6b2b0" filter="url(#bl4)" opacity="0.8"/>
<ellipse cx="163.1" cy="284.6" rx="8" ry="6" fill="#d6d0c6" filter="url(#bl3)" opacity="0.8"/>
<ellipse cx="205.1" cy="275.6" rx="14" ry="12" fill="#ae9492" filter="url(#bl4)" opacity="0.6"/>
<ellipse cx="177.6" cy="254.0" rx="2.5" ry="3.1" fill="#8c6c2a" filter="url(#bl1)" opacity="1.0"/>
<rect x="125.1" y="190.6" width="126.3" height="127.6" filter="url(#fur)" opacity="0.08" transform="rotate(-62 188.25 254.39999999999998)"/>
</g>
<line x1="201.60" y1="285.40" x2="218.30" y2="285.40" stroke="#151515" stroke-width="1.1" />
<text x="210.10" y="284.10" font-size="3.4" font-weight="bold" text-anchor="middle" fill="#151515" >1 cm</text>
<g clip-path="url(#cph1)">
<rect x="254.3" y="318.1" width="70.0" height="73.4" fill="#dcdbdb"/>
<ellipse cx="263.3" cy="362.1" rx="11" ry="32" fill="#c9c7c7" filter="url(#bl4)" opacity="1.0"/>
<ellipse cx="312.3" cy="340.1" rx="10" ry="16" fill="#e0dfde" filter="url(#bl4)" opacity="1.0"/>
<ellipse cx="302.3" cy="378.1" rx="14" ry="9" fill="#e0dede" filter="url(#bl4)" opacity="1.0"/>
<polygon points="268.4,347.9 272.9,343.3 278.3,338 282.9,336.4 288.2,338 291.3,341.8 295.9,347.9 301.2,352.5 304.3,356.3 303.5,362.4 300.5,367 294.4,370.1 286.7,370.8 281.4,367.8 279.1,360.9 276,354.8 271.4,351" fill="#6a4c38" stroke="#7a604c" stroke-width="1.2" stroke-linejoin="round" filter="url(#bl1)"/>
<ellipse cx="279" cy="345.5" rx="7" ry="5.5" fill="#3c2519" filter="url(#bl2)" opacity="0.95" transform="rotate(-25 279 345.5)"/>
<ellipse cx="287" cy="352" rx="5" ry="4" fill="#4a2f20" filter="url(#bl2)" opacity="0.8"/>
<ellipse cx="288" cy="362" rx="6" ry="5" fill="#76563e" filter="url(#bl2)" opacity="0.85"/>
<ellipse cx="299.5" cy="358" rx="3.8" ry="5.5" fill="#9a9350" filter="url(#bl2)" opacity="0.85"/>
<ellipse cx="293" cy="340" rx="3" ry="3" fill="#b8a090" filter="url(#bl2)" opacity="0.5"/>
<ellipse cx="300.2" cy="320.3" rx="2.8" ry="2.0" fill="#a88470" filter="url(#bl1)" opacity="1.0"/>
<ellipse cx="286.5" cy="384" rx="3.5" ry="6" fill="#cdb8b8" filter="url(#bl2)" opacity="1.0"/>
<path d="M252.3,389.1 L265.3,389.6 L265.3,394.1 L252.3,394.1 Z" fill="#4a5acc" filter="url(#bl1)"/>
<rect x="224.3" y="288.1" width="130.0" height="133.4" filter="url(#fur)" opacity="0.1" transform="rotate(-62 289.3 354.8)"/>
</g>
<line x1="304.50" y1="388.70" x2="321.20" y2="388.70" stroke="#151515" stroke-width="1.1" />
<text x="313.00" y="387.40" font-size="3.4" font-weight="bold" text-anchor="middle" fill="#151515" >1 cm</text>
<g clip-path="url(#cph2)">
<rect x="253.9" y="397.3" width="70.2" height="73.5" fill="#e6e4e6"/>
<path d="M277,393 L320,393 C324,410 326,440 326,474 L283,474 C277,468 272,462 271,452 C269,442 267,432 269,424 C271,412 274,402 277,393 Z" fill="#c9c1c9" filter="url(#bl2)" opacity="1.0"/>
<ellipse cx="296" cy="440" rx="16" ry="24" fill="#c4bbc4" filter="url(#bl4)" opacity="0.6"/>
<ellipse cx="318" cy="403" rx="9" ry="10" fill="#e8e6e8" filter="url(#bl3)" opacity="1.0"/>
<ellipse cx="322" cy="440" rx="3" ry="22" fill="#d6d2d6" filter="url(#bl3)" opacity="0.8"/>
<path d="M251.9,395.3 L256.5,395.3 L255.70000000000002,407.3 L251.9,409.3 Z" fill="#4050d0" filter="url(#bl1)"/>
<ellipse cx="273" cy="430" rx="4.2" ry="5" fill="#c8907e" filter="url(#bl2)" opacity="0.55"/>
<ellipse cx="274.3" cy="427.2" rx="2.2" ry="3.0" fill="#a2683a" filter="url(#bl1)" opacity="1.0"/>
<rect x="223.9" y="367.3" width="130.2" height="133.5" filter="url(#fur)" opacity="0.1" transform="rotate(-62 289.0 434.05)"/>
</g>
<line x1="304.30" y1="468.00" x2="321.00" y2="468.00" stroke="#151515" stroke-width="1.1" />
<text x="312.80" y="466.70" font-size="3.4" font-weight="bold" text-anchor="middle" fill="#151515" >1 cm</text>
<text x="67.60" y="178.10" font-size="9.6" font-weight="bold" text-anchor="middle" fill="#000" transform="rotate(-90 67.60 178.10)" >Saline</text>
<text x="152.00" y="175.80" font-size="9.6" font-weight="bold" text-anchor="middle" fill="#000" transform="rotate(-90 152.00 175.80)" >WT</text>
<text x="67.10" y="252.30" font-size="9.6" font-weight="bold" text-anchor="middle" fill="#000" transform="rotate(-90 67.10 252.30)" >Δ<tspan font-style="italic">cna</tspan></text>
<text x="151.00" y="253.90" font-size="9.6" font-weight="bold" text-anchor="middle" fill="#000" transform="rotate(-90 151.00 253.90)" >comp <tspan font-style="italic">cna</tspan></text>
<text x="252.80" y="359.00" font-size="9.2" font-weight="bold" text-anchor="middle" fill="#000" transform="rotate(-90 252.80 359.00)" >USA300</text>
<text x="250.10" y="434.30" font-size="9.2" font-weight="bold" text-anchor="middle" fill="#000" transform="rotate(-90 250.10 434.30)" >USA300:<tspan font-style="italic">pCna</tspan></text>
</svg>
</body></html>
